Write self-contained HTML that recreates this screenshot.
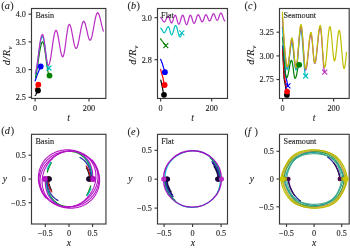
<!DOCTYPE html>
<html><head><meta charset="utf-8"><style>html,body{margin:0;padding:0;background:#fff;overflow:hidden}svg{display:block}text{stroke:#1a1a1a;stroke-width:0.1px}</style></head><body>
<svg width="350" height="248" viewBox="0 0 350 248" font-family="'Liberation Serif', 'Times New Roman', serif" fill="#1a1a1a">
<rect width="350" height="248" fill="#ffffff"/>
<rect x="31.50" y="8.50" width="74.35" height="89.95" fill="none" stroke="#3a3a3a" stroke-width="1.15"/>
<path d="M28.50 97.30H31.50" stroke="#3a3a3a" stroke-width="1.15"/>
<text x="25.90" y="100.21" font-size="8.2" text-anchor="end" >2.5</text>
<path d="M28.50 69.60H31.50" stroke="#3a3a3a" stroke-width="1.15"/>
<text x="25.90" y="72.51" font-size="8.2" text-anchor="end" >3.0</text>
<path d="M28.50 41.90H31.50" stroke="#3a3a3a" stroke-width="1.15"/>
<text x="25.90" y="44.81" font-size="8.2" text-anchor="end" >3.5</text>
<path d="M28.50 14.20H31.50" stroke="#3a3a3a" stroke-width="1.15"/>
<text x="25.90" y="17.11" font-size="8.2" text-anchor="end" >4.0</text>
<path d="M35.10 98.45V101.45" stroke="#3a3a3a" stroke-width="1.15"/>
<text x="35.10" y="110.65" font-size="8.2" text-anchor="middle" >0</text>
<path d="M89.00 98.45V101.45" stroke="#3a3a3a" stroke-width="1.15"/>
<text x="89.00" y="110.65" font-size="8.2" text-anchor="middle" >200</text>
<clipPath id="ca"><rect x="31.50" y="8.50" width="74.35" height="89.95"/></clipPath>
<g clip-path="url(#ca)">
<path d="M35.10 95.50L35.34 95.42L35.58 95.17L35.83 94.78L36.07 94.28L36.31 93.68L36.55 93.05L36.79 92.42L37.03 91.83L37.27 91.32L37.52 90.93L37.76 90.68L38.00 90.60" fill="none" stroke="#000000" stroke-width="1.2" stroke-linejoin="round" stroke-linecap="round" />
<path d="M35.10 89.00L35.38 88.93L35.65 88.71L35.92 88.36L36.20 87.90L36.48 87.37L36.75 86.80L37.02 86.23L37.30 85.70L37.58 85.24L37.85 84.89L38.12 84.67L38.40 84.60" fill="none" stroke="#ff0000" stroke-width="1.2" stroke-linejoin="round" stroke-linecap="round" />
<path d="M35.10 81.00L37.50 74.00L40.70 66.50" fill="none" stroke="#0000ff" stroke-width="1.2" stroke-linejoin="round" stroke-linecap="round" />
<path d="M35.43 77.44L36.15 74.41L36.87 70.45L37.58 65.84L38.30 60.90L39.02 55.96L39.73 51.35L40.45 47.39L41.17 44.36L41.88 42.45L42.60 41.80L43.18 42.38L43.75 44.06L44.33 46.75L44.90 50.25L45.48 54.33L46.05 58.70L46.62 63.07L47.20 67.15L47.77 70.65L48.35 73.34L48.92 75.02L49.50 75.60" fill="none" stroke="#008000" stroke-width="1.2" stroke-linejoin="round" stroke-linecap="round" />
<path d="M35.57 74.29L36.25 71.07L36.93 66.88L37.62 61.99L38.30 56.75L38.98 51.51L39.67 46.62L40.35 42.43L41.03 39.21L41.72 37.19L42.40 36.50L42.97 37.07L43.53 38.74L44.10 41.41L44.67 44.88L45.23 48.91L45.80 53.25L46.37 57.59L46.93 61.62L47.50 65.09L48.07 67.76L48.63 69.43L48.90 69.70" fill="none" stroke="#00bfbf" stroke-width="1.2" stroke-linejoin="round" stroke-linecap="round" />
<path d="M35.25 73.33L35.90 71.35L36.55 68.20L37.20 64.10L37.85 59.32L38.50 54.20L39.15 49.08L39.80 44.30L40.45 40.20L41.10 37.05L41.75 35.07L42.40 34.40L42.89 34.93L43.38 36.48L43.88 38.95L44.37 42.17L44.86 45.93L45.35 49.95L45.84 53.97L46.33 57.72L46.82 60.95L47.32 63.42L47.81 64.97L48.30 65.50L48.94 64.90L49.58 63.14L50.22 60.35L50.87 56.70L51.51 52.46L52.15 47.90L52.79 43.34L53.43 39.10L54.08 35.45L54.72 32.66L55.36 30.90L56.00 30.30L56.56 30.75L57.12 32.08L57.67 34.18L58.23 36.92L58.79 40.12L59.35 43.55L59.91 46.98L60.47 50.17L61.03 52.92L61.58 55.02L62.14 56.35L62.70 56.80L63.25 56.25L63.80 54.62L64.35 52.04L64.90 48.67L65.45 44.76L66.00 40.55L66.55 36.34L67.10 32.42L67.65 29.06L68.20 26.48L68.75 24.85L69.30 24.30L69.87 24.71L70.43 25.92L71.00 27.84L71.57 30.35L72.13 33.27L72.70 36.40L73.27 39.53L73.83 42.45L74.40 44.96L74.97 46.88L75.53 48.09L76.10 48.50L76.73 48.04L77.37 46.68L78.00 44.52L78.63 41.70L79.27 38.42L79.90 34.90L80.53 31.38L81.17 28.10L81.80 25.28L82.43 23.12L83.07 21.76L83.70 21.30L84.23 21.62L84.77 22.57L85.30 24.07L85.83 26.02L86.37 28.30L86.90 30.75L87.43 33.20L87.97 35.48L88.50 37.43L89.03 38.93L89.57 39.88L90.10 40.20L90.72 39.73L91.35 38.36L91.97 36.19L92.60 33.35L93.22 30.05L93.85 26.50L94.47 22.95L95.10 19.65L95.72 16.81L96.35 14.64L96.97 13.27L97.60 12.80L98.20 13.14L98.80 14.15L99.40 15.76L100.00 17.85L100.60 20.29L101.20 22.90L101.80 25.51L102.40 27.95L103.00 30.04L103.40 31.11" fill="none" stroke="#b82cc2" stroke-width="1.2" stroke-linejoin="round" stroke-linecap="round" />
<circle cx="38.00" cy="90.50" r="2.9" fill="#000000"/>
<circle cx="38.30" cy="84.70" r="2.9" fill="#ff0000"/>
<circle cx="40.70" cy="66.50" r="2.9" fill="#0000ff"/>
<circle cx="49.50" cy="75.60" r="2.9" fill="#008000"/>
<path d="M46.40 65.50L51.40 70.50M46.40 70.50L51.40 65.50" stroke="#00bfbf" stroke-width="1.1" fill="none"/>
</g>
<text x="35.40" y="17.60" font-size="8.2" text-anchor="start" >Basin</text>
<rect x="157.50" y="8.50" width="70.00" height="89.95" fill="none" stroke="#3a3a3a" stroke-width="1.15"/>
<path d="M154.50 59.70H157.50" stroke="#3a3a3a" stroke-width="1.15"/>
<text x="151.90" y="62.61" font-size="8.2" text-anchor="end" >2.8</text>
<path d="M154.50 17.70H157.50" stroke="#3a3a3a" stroke-width="1.15"/>
<text x="151.90" y="20.61" font-size="8.2" text-anchor="end" >3.0</text>
<path d="M160.60 98.45V101.45" stroke="#3a3a3a" stroke-width="1.15"/>
<text x="160.60" y="110.65" font-size="8.2" text-anchor="middle" >0</text>
<path d="M211.70 98.45V101.45" stroke="#3a3a3a" stroke-width="1.15"/>
<text x="211.70" y="110.65" font-size="8.2" text-anchor="middle" >200</text>
<clipPath id="cb"><rect x="157.50" y="8.50" width="70.00" height="89.95"/></clipPath>
<g clip-path="url(#cb)">
<path d="M160.60 17.70L160.90 17.77L161.20 17.98L161.50 18.32L161.80 18.75L162.10 19.26L162.40 19.80L162.70 20.34L163.00 20.85L163.30 21.28L163.60 21.62L163.90 21.83L164.20 21.90L164.54 21.80L164.88 21.52L165.22 21.07L165.57 20.47L165.91 19.79L166.25 19.05L166.59 18.31L166.93 17.62L167.28 17.03L167.62 16.58L167.96 16.30L168.30 16.20L168.57 16.32L168.83 16.66L169.10 17.20L169.37 17.90L169.63 18.72L169.90 19.60L170.17 20.48L170.43 21.30L170.70 22.00L170.97 22.54L171.23 22.88L171.50 23.00L171.81 22.87L172.12 22.48L172.43 21.86L172.73 21.05L173.04 20.11L173.35 19.10L173.66 18.09L173.97 17.15L174.27 16.34L174.58 15.72L174.89 15.33L175.20 15.20L175.50 15.35L175.80 15.80L176.10 16.52L176.40 17.45L176.70 18.54L177.00 19.70L177.30 20.86L177.60 21.95L177.90 22.88L178.20 23.60L178.50 24.05L178.80 24.20L179.12 24.05L179.45 23.60L179.78 22.88L180.10 21.95L180.43 20.86L180.75 19.70L181.07 18.54L181.40 17.45L181.72 16.52L182.05 15.80L182.38 15.35L182.70 15.20L183.02 15.36L183.35 15.83L183.67 16.58L184.00 17.55L184.32 18.68L184.65 19.90L184.97 21.12L185.30 22.25L185.62 23.22L185.95 23.97L186.28 24.44L186.60 24.60L186.92 24.44L187.23 23.97L187.55 23.22L187.87 22.25L188.18 21.12L188.50 19.90L188.82 18.68L189.13 17.55L189.45 16.58L189.77 15.83L190.08 15.36L190.40 15.20L190.71 15.34L191.02 15.75L191.32 16.40L191.63 17.25L191.94 18.24L192.25 19.30L192.56 20.36L192.87 21.35L193.18 22.20L193.48 22.85L193.79 23.26L194.10 23.40L194.44 23.25L194.78 22.82L195.12 22.13L195.47 21.22L195.81 20.18L196.15 19.05L196.49 17.92L196.83 16.88L197.17 15.97L197.52 15.28L197.86 14.85L198.20 14.70L198.53 14.82L198.87 15.18L199.20 15.75L199.53 16.50L199.87 17.37L200.20 18.30L200.53 19.23L200.87 20.10L201.20 20.85L201.53 21.42L201.87 21.78L202.20 21.90L202.51 21.78L202.82 21.42L203.12 20.85L203.43 20.10L203.74 19.23L204.05 18.30L204.36 17.37L204.67 16.50L204.97 15.75L205.28 15.18L205.59 14.82L205.90 14.70L206.21 14.81L206.52 15.12L206.82 15.61L207.13 16.25L207.44 17.00L207.75 17.80L208.06 18.60L208.37 19.35L208.68 19.99L208.98 20.48L209.29 20.79L209.60 20.90L209.92 20.78L210.25 20.42L210.57 19.85L210.90 19.10L211.22 18.23L211.55 17.30L211.88 16.37L212.20 15.50L212.53 14.75L212.85 14.18L213.18 13.82L213.50 13.70L213.81 13.81L214.12 14.14L214.43 14.67L214.73 15.35L215.04 16.15L215.35 17.00L215.66 17.85L215.97 18.65L216.27 19.33L216.58 19.86L216.89 20.19L217.20 20.30L217.51 20.18L217.82 19.82L218.12 19.25L218.43 18.50L218.74 17.63L219.05 16.70L219.36 15.77L219.67 14.90L219.97 14.15L220.28 13.58L220.59 13.22L220.90 13.10L221.24 13.23L221.58 13.63L221.93 14.26L222.27 15.07L222.61 16.03L222.95 17.05L223.29 18.07L223.63 19.02L223.97 19.84L224.32 20.47L224.66 20.87L224.80 20.92" fill="none" stroke="#b82cc2" stroke-width="1.2" stroke-linejoin="round" stroke-linecap="round" />
<path d="M160.60 28.20L160.90 28.28L161.20 28.51L161.50 28.87L161.80 29.35L162.10 29.90L162.40 30.50L162.70 31.10L163.00 31.65L163.30 32.13L163.60 32.49L163.90 32.72L164.20 32.80L164.54 32.69L164.88 32.38L165.22 31.89L165.57 31.25L165.91 30.50L166.25 29.70L166.59 28.90L166.93 28.15L167.28 27.51L167.62 27.02L167.96 26.71L168.30 26.60L168.58 26.74L168.85 27.16L169.12 27.82L169.40 28.68L169.68 29.68L169.95 30.75L170.22 31.82L170.50 32.82L170.78 33.68L171.05 34.34L171.32 34.76L171.60 34.90L171.93 34.74L172.27 34.28L172.60 33.54L172.93 32.58L173.27 31.45L173.60 30.25L173.93 29.05L174.27 27.93L174.60 26.96L174.93 26.22L175.27 25.76L175.60 25.60L175.97 25.79L176.33 26.36L176.70 27.27L177.07 28.45L177.43 29.82L177.80 31.30L178.17 32.78L178.53 34.15L178.90 35.33L179.27 36.24L179.63 36.81L180.00 37.00L180.29 36.88L180.58 36.53L180.88 35.97L181.17 35.25L181.46 34.41L181.75 33.50L181.80 33.34" fill="none" stroke="#00bfbf" stroke-width="1.2" stroke-linejoin="round" stroke-linecap="round" />
<path d="M160.60 38.80L162.50 41.50L165.80 45.70" fill="none" stroke="#008000" stroke-width="1.2" stroke-linejoin="round" stroke-linecap="round" />
<path d="M160.60 59.30L162.30 63.50L164.90 72.10" fill="none" stroke="#0000ff" stroke-width="1.2" stroke-linejoin="round" stroke-linecap="round" />
<path d="M160.60 69.30L162.50 76.00L164.50 84.80" fill="none" stroke="#ff0000" stroke-width="1.2" stroke-linejoin="round" stroke-linecap="round" />
<path d="M160.80 80.20L162.30 87.00L163.70 94.40" fill="none" stroke="#000000" stroke-width="1.2" stroke-linejoin="round" stroke-linecap="round" />
<circle cx="164.00" cy="94.80" r="2.9" fill="#000000"/>
<circle cx="164.60" cy="85.00" r="2.9" fill="#ff0000"/>
<circle cx="164.90" cy="72.20" r="2.9" fill="#0000ff"/>
<path d="M179.30 30.40L184.30 35.40M179.30 35.40L184.30 30.40" stroke="#00bfbf" stroke-width="1.1" fill="none"/>
<path d="M163.30 43.20L168.30 48.20M163.30 48.20L168.30 43.20" stroke="#008000" stroke-width="1.1" fill="none"/>
</g>
<text x="161.10" y="17.80" font-size="8.2" text-anchor="start" >Flat</text>
<rect x="279.50" y="8.50" width="69.70" height="89.95" fill="none" stroke="#3a3a3a" stroke-width="1.15"/>
<path d="M276.50 79.50H279.50" stroke="#3a3a3a" stroke-width="1.15"/>
<text x="273.90" y="82.41" font-size="8.2" text-anchor="end" >2.75</text>
<path d="M276.50 55.90H279.50" stroke="#3a3a3a" stroke-width="1.15"/>
<text x="273.90" y="58.81" font-size="8.2" text-anchor="end" >3.00</text>
<path d="M276.50 32.20H279.50" stroke="#3a3a3a" stroke-width="1.15"/>
<text x="273.90" y="35.11" font-size="8.2" text-anchor="end" >3.25</text>
<path d="M282.60 98.45V101.45" stroke="#3a3a3a" stroke-width="1.15"/>
<text x="282.60" y="110.65" font-size="8.2" text-anchor="middle" >0</text>
<path d="M333.60 98.45V101.45" stroke="#3a3a3a" stroke-width="1.15"/>
<text x="333.60" y="110.65" font-size="8.2" text-anchor="middle" >200</text>
<clipPath id="cc"><rect x="279.50" y="8.50" width="69.70" height="89.95"/></clipPath>
<g clip-path="url(#cc)">
<path d="M282.70 50.00L284.00 78.00L286.90 94.70" fill="none" stroke="#000000" stroke-width="1.2" stroke-linejoin="round" stroke-linecap="round" />
<path d="M282.70 48.00L284.20 75.00L287.10 91.60" fill="none" stroke="#ff0000" stroke-width="1.2" stroke-linejoin="round" stroke-linecap="round" />
<path d="M282.60 46.00L283.60 52.00L285.30 74.00L287.90 85.90" fill="none" stroke="#0000ff" stroke-width="1.2" stroke-linejoin="round" stroke-linecap="round" />
<path d="M282.60 37.00L282.94 42.33L283.28 47.56L283.62 52.61L283.97 57.40L284.31 61.84L284.65 65.85L284.99 69.37L285.33 72.33L285.68 74.69L286.02 76.41L286.36 77.45L286.70 77.80L287.10 77.50L287.50 76.63L287.90 75.24L288.30 73.42L288.70 71.31L289.10 69.05L289.50 66.79L289.90 64.67L290.30 62.86L290.70 61.47L291.10 60.60L291.50 60.30L291.80 60.61L292.10 61.51L292.40 62.95L292.70 64.83L293.00 67.01L293.30 69.35L293.60 71.69L293.90 73.88L294.20 75.75L294.50 77.19L294.80 78.09L295.10 78.40L295.49 78.12L295.88 77.30L296.28 76.00L296.67 74.30L297.06 72.32L297.45 70.20L297.84 68.08L298.23 66.10L298.62 64.40L299.02 63.10L299.20 62.72" fill="none" stroke="#008000" stroke-width="1.2" stroke-linejoin="round" stroke-linecap="round" />
<path d="M282.40 27.00L282.81 32.55L283.22 38.00L283.62 43.26L284.03 48.25L284.44 52.87L284.85 57.05L285.26 60.72L285.67 63.81L286.07 66.26L286.48 68.05L286.89 69.14L287.30 69.50L287.68 69.05L288.05 67.72L288.43 65.62L288.80 62.88L289.18 59.68L289.55 56.25L289.93 52.82L290.30 49.62L290.68 46.88L291.05 44.78L291.43 43.45L291.80 43.00L292.15 43.46L292.50 44.81L292.85 46.95L293.20 49.75L293.55 53.01L293.90 56.50L294.25 59.99L294.60 63.25L294.95 66.05L295.30 68.19L295.65 69.54L296.00 70.00L296.40 69.32L296.80 67.32L297.20 64.14L297.60 60.00L298.00 55.18L298.40 50.00L298.80 44.82L299.20 40.00L299.60 35.86L300.00 32.68L300.40 30.68L300.80 30.00L301.21 30.78L301.62 33.08L302.02 36.74L302.43 41.50L302.84 47.05L303.25 53.00L303.66 58.95L304.07 64.50L304.48 69.26L304.88 72.92L305.29 75.22L305.70 76.00" fill="none" stroke="#00bfbf" stroke-width="1.2" stroke-linejoin="round" stroke-linecap="round" />
<path d="M282.40 17.00L282.82 23.53L283.25 29.94L283.67 36.13L284.10 42.00L284.52 47.44L284.95 52.36L285.38 56.67L285.80 60.30L286.23 63.19L286.65 65.30L287.07 66.57L287.50 67.00L287.87 66.54L288.23 65.19L288.60 63.05L288.97 60.25L289.33 56.99L289.70 53.50L290.07 50.01L290.43 46.75L290.80 43.95L291.17 41.81L291.53 40.46L291.90 40.00L292.24 40.48L292.58 41.88L292.92 44.10L293.27 47.00L293.61 50.38L293.95 54.00L294.29 57.62L294.63 61.00L294.98 63.90L295.32 66.12L295.66 67.52L296.00 68.00L296.42 67.29L296.83 65.22L297.25 61.92L297.67 57.62L298.08 52.62L298.50 47.25L298.92 41.88L299.33 36.88L299.75 32.58L300.17 29.28L300.58 27.21L301.00 26.50L301.39 27.24L301.78 29.41L302.18 32.87L302.57 37.38L302.96 42.62L303.35 48.25L303.74 53.88L304.13 59.12L304.52 63.63L304.92 67.09L305.31 69.26L305.70 70.00L306.14 69.40L306.58 67.62L307.02 64.80L307.47 61.12L307.91 56.84L308.35 52.25L308.79 47.66L309.23 43.38L309.68 39.70L310.12 36.88L310.56 35.10L311.00 34.50L311.32 34.99L311.63 36.44L311.95 38.75L312.27 41.75L312.58 45.25L312.90 49.00L313.22 52.75L313.53 56.25L313.85 59.25L314.17 61.56L314.48 63.01L314.80 63.50L315.25 62.89L315.70 61.09L316.15 58.23L316.60 54.50L317.05 50.16L317.50 45.50L317.95 40.84L318.40 36.50L318.85 32.77L319.30 29.91L319.75 28.11L320.20 27.50L320.57 28.26L320.95 30.49L321.32 34.05L321.70 38.67L322.07 44.07L322.45 49.85L322.82 55.63L323.20 61.02L323.57 65.65L323.95 69.21L324.32 71.44L324.70 72.20" fill="none" stroke="#b82cc2" stroke-width="1.2" stroke-linejoin="round" stroke-linecap="round" />
<path d="M282.40 12.20L282.82 19.29L283.25 26.25L283.67 32.98L284.10 39.35L284.52 45.26L284.95 50.60L285.38 55.28L285.80 59.23L286.23 62.37L286.65 64.65L287.07 66.04L287.50 66.50L287.87 66.01L288.23 64.58L288.60 62.30L288.97 59.33L289.33 55.86L289.70 52.15L290.07 48.44L290.43 44.98L290.80 42.00L291.17 39.72L291.53 38.29L291.90 37.80L292.24 38.31L292.58 39.79L292.92 42.15L293.27 45.22L293.61 48.81L293.95 52.65L294.29 56.49L294.63 60.07L294.98 63.15L295.32 65.51L295.66 66.99L296.00 67.50L296.42 66.77L296.83 64.62L297.25 61.20L297.67 56.75L298.08 51.56L298.50 46.00L298.92 40.44L299.33 35.25L299.75 30.80L300.17 27.38L300.58 25.23L301.00 24.50L301.38 25.25L301.77 27.47L302.15 30.99L302.53 35.57L302.92 40.92L303.30 46.65L303.68 52.38L304.07 57.72L304.45 62.31L304.83 65.83L305.22 68.05L305.60 68.80L306.05 68.18L306.50 66.35L306.95 63.45L307.40 59.67L307.85 55.27L308.30 50.55L308.75 45.83L309.20 41.42L309.65 37.65L310.10 34.75L310.55 32.92L311.00 32.30L311.31 32.82L311.62 34.35L311.93 36.78L312.23 39.95L312.54 43.64L312.85 47.60L313.16 51.56L313.47 55.25L313.77 58.42L314.08 60.85L314.39 62.38L314.70 62.90L315.16 62.26L315.62 60.39L316.07 57.42L316.53 53.55L316.99 49.04L317.45 44.20L317.91 39.36L318.37 34.85L318.82 30.98L319.28 28.01L319.74 26.14L320.20 25.50L320.57 26.22L320.93 28.31L321.30 31.65L321.67 36.00L322.03 41.06L322.40 46.50L322.77 51.94L323.13 57.00L323.50 61.35L323.87 64.69L324.23 66.78L324.60 67.50L325.04 66.80L325.48 64.76L325.93 61.51L326.37 57.28L326.81 52.34L327.25 47.05L327.69 41.76L328.13 36.83L328.57 32.59L329.02 29.34L329.46 27.30L329.90 26.60L330.28 27.18L330.67 28.90L331.05 31.62L331.43 35.17L331.82 39.31L332.20 43.75L332.58 48.19L332.97 52.32L333.35 55.88L333.73 58.60L334.12 60.32L334.50 60.90L334.89 60.38L335.28 58.86L335.68 56.43L336.07 53.27L336.46 49.60L336.85 45.65L337.24 41.70L337.63 38.03L338.02 34.87L338.42 32.44L338.81 30.92L339.20 30.40L339.61 31.05L340.02 32.95L340.43 35.98L340.83 39.92L341.24 44.52L341.65 49.45L342.06 54.38L342.47 58.97L342.88 62.92L343.28 65.95L343.69 67.85L344.10 68.50L344.47 68.01L344.83 66.59L345.20 64.33L345.57 61.38L345.93 57.94L346.30 54.25L346.50 52.24" fill="none" stroke="#bfbf00" stroke-width="1.2" stroke-linejoin="round" stroke-linecap="round" />
<circle cx="286.90" cy="94.90" r="2.9" fill="#000000"/>
<circle cx="287.10" cy="91.60" r="2.9" fill="#ff0000"/>
<circle cx="299.20" cy="64.80" r="2.9" fill="#008000"/>
<path d="M303.20 73.50L308.20 78.50M303.20 78.50L308.20 73.50" stroke="#00bfbf" stroke-width="1.1" fill="none"/>
<path d="M322.20 69.70L327.20 74.70M322.20 74.70L327.20 69.70" stroke="#b82cc2" stroke-width="1.1" fill="none"/>
<path d="M285.40 83.40L290.40 88.40M285.40 88.40L290.40 83.40" stroke="#0000ff" stroke-width="1.1" fill="none"/>
</g>
<text x="283.40" y="17.80" font-size="8.2" text-anchor="start" >Seamount</text>
<rect x="31.50" y="134.30" width="74.45" height="89.70" fill="none" stroke="#3a3a3a" stroke-width="1.15"/>
<path d="M28.50 155.20H31.50" stroke="#3a3a3a" stroke-width="1.15"/>
<text x="25.90" y="158.11" font-size="8.2" text-anchor="end" >0.5</text>
<path d="M28.50 179.00H31.50" stroke="#3a3a3a" stroke-width="1.15"/>
<text x="25.90" y="181.91" font-size="8.2" text-anchor="end" >0</text>
<path d="M28.50 202.70H31.50" stroke="#3a3a3a" stroke-width="1.15"/>
<text x="25.90" y="205.61" font-size="8.2" text-anchor="end" >−0.5</text>
<path d="M45.30 224.00V227.00" stroke="#3a3a3a" stroke-width="1.15"/>
<text x="45.30" y="236.20" font-size="8.2" text-anchor="middle" >−0.5</text>
<path d="M69.00 224.00V227.00" stroke="#3a3a3a" stroke-width="1.15"/>
<text x="69.00" y="236.20" font-size="8.2" text-anchor="middle" >0</text>
<path d="M92.60 224.00V227.00" stroke="#3a3a3a" stroke-width="1.15"/>
<text x="92.60" y="236.20" font-size="8.2" text-anchor="middle" >0.5</text>
<clipPath id="cd"><rect x="31.50" y="134.30" width="74.45" height="89.70"/></clipPath>
<g clip-path="url(#cd)">
<path d="M46.10 179.00L46.10 179.60L46.20 180.20L46.20 180.80L46.20 181.50L46.20 182.10L46.30 182.70L46.40 183.30L46.40 183.90L46.50 184.50L46.60 185.20L46.70 185.80L46.80 186.40L46.90 187.00L47.10 187.60L47.20 188.30L47.40 188.90L47.50 189.50L47.70 190.10L47.90 190.80L48.10 191.40L48.40 192.00L48.60 192.60L48.90 193.20L49.20 193.80L49.50 194.50L49.80 195.10L50.10 195.70L50.50 196.20L50.80 196.80L51.20 197.40L51.60 198.00L52.10 198.50L52.50 199.10L53.00 199.60L53.50 200.10L54.00 200.60L54.50 201.10L55.00 201.60L55.60 202.10L56.10 202.50L56.70 203.00L57.30 203.40L57.90 203.80L58.50 204.10L59.20 204.50L59.80 204.80L60.50 205.10L61.20 205.40L61.90 205.60L62.60 205.80L63.30 206.00L64.00 206.20L64.70 206.40L65.50 206.50L66.20 206.60L66.90 206.60L67.70 206.70L68.40 206.70L69.10 206.70" fill="none" stroke="#008000" stroke-width="1.3" stroke-linejoin="round" stroke-linecap="round" />
<path d="M86.70 195.20L87.10 194.60L87.40 194.10L87.70 193.50L88.00 192.90L88.30 192.40L88.50 191.80L88.80 191.20L89.00 190.60L89.30 190.10L89.50 189.50L89.70 188.90L89.90 188.30L90.10 187.80L90.30 187.20L90.50 186.60L90.70 186.00" fill="none" stroke="#008000" stroke-width="1.3" stroke-linejoin="round" stroke-linecap="round" />
<path d="M91.90 179.00L91.90 178.40L91.80 177.80L91.80 177.20L91.80 176.50L91.80 175.90L91.70 175.30L91.60 174.70L91.60 174.10L91.50 173.50L91.40 172.80L91.30 172.20L91.20 171.60L91.10 171.00L90.90 170.40L90.80 169.70L90.60 169.10L90.50 168.50L90.30 167.90L90.10 167.20L89.90 166.60L89.60 166.00L89.40 165.40L89.10 164.80L88.80 164.20L88.50 163.50L88.20 162.90L87.90 162.30L87.50 161.80L87.20 161.20L86.80 160.60L86.40 160.00L85.90 159.50L85.50 158.90L85.00 158.40L84.50 157.90L84.00 157.40L83.50 156.90L83.00 156.40L82.40 155.90L81.90 155.50L81.30 155.00L80.70 154.60L80.10 154.20L79.50 153.90L78.80 153.50L78.20 153.20L77.50 152.90L76.80 152.60L76.10 152.40L75.40 152.20L74.70 152.00L74.00 151.80L73.30 151.60L72.50 151.50L71.80 151.40L71.10 151.40L70.30 151.30L69.60 151.30L68.90 151.30" fill="none" stroke="#008000" stroke-width="1.3" stroke-linejoin="round" stroke-linecap="round" />
<path d="M51.30 162.80L50.90 163.40L50.60 163.90L50.30 164.50L50.00 165.10L49.70 165.60L49.50 166.20L49.20 166.80L49.00 167.40L48.70 167.90L48.50 168.50L48.30 169.10L48.10 169.70L47.90 170.20L47.70 170.80L47.50 171.40L47.30 172.00" fill="none" stroke="#008000" stroke-width="1.3" stroke-linejoin="round" stroke-linecap="round" />
<path d="M45.70 179.00L45.80 179.60L45.80 180.20L45.80 180.90L45.80 181.50L45.80 182.10L45.90 182.70L45.90 183.40L46.00 184.00L46.10 184.60L46.20 185.30L46.30 185.90L46.40 186.50L46.50 187.20L46.60 187.80L46.80 188.50L46.90 189.10L47.10 189.70L47.30 190.40L47.50 191.00L47.70 191.70L47.90 192.30L48.10 193.00L48.40 193.60L48.70 194.20L49.00 194.90L49.30 195.50L49.60 196.10L50.00 196.70L50.40 197.30L50.70 197.90L51.20 198.50L51.60 199.10L52.00 199.70L52.50 200.20L53.00 200.80L53.50 201.30L54.00 201.80L54.60 202.30L55.10 202.80L55.70 203.20L56.30 203.70L56.90 204.10L57.60 204.50L58.20 204.90L58.90 205.20L59.60 205.60L60.30 205.90L61.00 206.10L61.70 206.40L62.40 206.60L63.10 206.80L63.90 207.00L64.60 207.10L65.40 207.20L66.10 207.30L66.90 207.40L67.60 207.40L68.40 207.40L69.10 207.40" fill="none" stroke="#00bfbf" stroke-width="1.3" stroke-linejoin="round" stroke-linecap="round" />
<path d="M87.20 195.60L87.50 195.00L87.90 194.50L88.20 193.90L88.50 193.30L88.90 192.80L89.20 192.20L89.50 191.60L89.70 191.10L90.00 190.50L90.30 189.90L90.60 189.30L90.80 188.70" fill="none" stroke="#00bfbf" stroke-width="1.3" stroke-linejoin="round" stroke-linecap="round" />
<path d="M92.30 179.00L92.20 178.40L92.20 177.80L92.20 177.10L92.20 176.50L92.20 175.90L92.10 175.30L92.10 174.60L92.00 174.00L91.90 173.40L91.80 172.70L91.70 172.10L91.60 171.50L91.50 170.80L91.40 170.20L91.20 169.50L91.10 168.90L90.90 168.30L90.70 167.60L90.50 167.00L90.30 166.30L90.10 165.70L89.90 165.00L89.60 164.40L89.30 163.80L89.00 163.10L88.70 162.50L88.40 161.90L88.00 161.30L87.60 160.70L87.30 160.10L86.80 159.50L86.40 158.90L86.00 158.30L85.50 157.80L85.00 157.20L84.50 156.70L84.00 156.20L83.40 155.70L82.90 155.20L82.30 154.80L81.70 154.30L81.10 153.90L80.40 153.50L79.80 153.10L79.10 152.80L78.40 152.40L77.70 152.10L77.00 151.90L76.30 151.60L75.60 151.40L74.90 151.20L74.10 151.00L73.40 150.90L72.60 150.80L71.90 150.70L71.10 150.60L70.40 150.60L69.60 150.60L68.90 150.60" fill="none" stroke="#00bfbf" stroke-width="1.3" stroke-linejoin="round" stroke-linecap="round" />
<path d="M50.80 162.40L50.50 163.00L50.10 163.50L49.80 164.10L49.50 164.70L49.10 165.20L48.80 165.80L48.50 166.40L48.30 166.90L48.00 167.50L47.70 168.10L47.40 168.70L47.20 169.30" fill="none" stroke="#00bfbf" stroke-width="1.3" stroke-linejoin="round" stroke-linecap="round" />
<path d="M45.40 179.00L45.30 179.60L45.30 180.20L45.30 180.90L45.30 181.50L45.30 182.10L45.30 182.80L45.30 183.40L45.40 184.00L45.40 184.70L45.50 185.30L45.50 186.00L45.60 186.60L45.70 187.30L45.80 187.90L46.00 188.60L46.10 189.20L46.30 189.90L46.50 190.50L46.70 191.20L46.90 191.80L47.10 192.50L47.40 193.10L47.60 193.70L47.90 194.40L48.20 195.00L48.60 195.60L48.90 196.20L49.30 196.80L49.70 197.40L50.10 198.00L50.50 198.60L51.00 199.10L51.40 199.70L51.90 200.20L52.40 200.70L52.90 201.20L53.50 201.70L54.00 202.10L54.60 202.60L55.20 203.00L55.80 203.40L56.40 203.80L57.00 204.20L57.70 204.50L58.30 204.80L59.00 205.10L59.70 205.40L60.40 205.70L61.10 205.90L61.80 206.10L62.50 206.30L63.20 206.50L63.90 206.60L64.60 206.80L65.30 206.90L66.10 207.00L66.80 207.00L67.50 207.00L68.30 207.00L69.00 207.00L69.70 207.00L70.50 206.90L71.20 206.80L71.90 206.70L72.60 206.60L73.30 206.40L74.00 206.20L74.70 206.00L75.40 205.80L76.10 205.60L76.80 205.30L77.40 205.00L78.10 204.70L78.70 204.40L79.30 204.10L80.00 203.70L80.60 203.40L81.20 203.00L81.80 202.60L82.30 202.20L82.90 201.80L83.40 201.30L84.00 200.90L84.50 200.40L85.00 200.00L85.50 199.50L86.00 199.00L86.50 198.50L87.00 198.00L87.40 197.50L87.90 197.00L88.30 196.50L88.80 195.90L89.20 195.40L89.60 194.90L90.00 194.30L90.40 193.70L90.70 193.20L91.10 192.60L91.50 192.00L91.80 191.40L92.10 190.80L92.50 190.20L92.80 189.60L93.10 189.00L93.30 188.40L93.60 187.80L93.90 187.10L94.10 186.50L94.30 185.80L94.50 185.20L94.70 184.50L94.90 183.80L95.10 183.20L95.30 182.50L95.40 181.80L95.50 181.10L95.60 180.40L95.70 179.70L95.80 179.00L95.90 178.30L95.90 177.60L95.90 176.90L95.90 176.20L95.90 175.40L95.90 174.70L95.80 174.00L95.80 173.30L95.70 172.60L95.60 171.80L95.50 171.10L95.30 170.40L95.10 169.70L94.90 169.00L94.70 168.30L94.50 167.60L94.30 166.90L94.00 166.20L93.70 165.50L93.40 164.90L93.10 164.20L92.70 163.50L92.30 162.90L91.90 162.30L91.50 161.60L91.10 161.00L90.60 160.40L90.20 159.90L89.70 159.30L89.20 158.70L88.70 158.20L88.10 157.70L87.60 157.20L87.00 156.70L86.40 156.20L85.80 155.80L85.20 155.30L84.60 154.90L83.90 154.50L83.30 154.10L82.60 153.80L82.00 153.50L81.30 153.10L80.60 152.90L79.90 152.60L79.20 152.30L78.50 152.10L77.80 151.90L77.00 151.70L76.30 151.60L75.60 151.40L74.90 151.30L74.10 151.20L73.40 151.10L72.70 151.10L71.90 151.10L71.20 151.00L70.50 151.10L69.70 151.10L69.00 151.10L68.30 151.20L67.60 151.30L66.80 151.40L66.10 151.50L65.40 151.60L64.70 151.80L64.00 152.00L63.30 152.20L62.60 152.40L62.00 152.60L61.30 152.80L60.60 153.10L60.00 153.30L59.30 153.60L58.70 153.90L58.00 154.20L57.40 154.50L56.80 154.90L56.10 155.20L55.50 155.60L54.90 156.00L54.30 156.30L53.80 156.70L53.20 157.20L52.60 157.60L52.10 158.00L51.50 158.40L51.00 158.90L50.40 159.40L49.90 159.80L49.40 160.30L48.90 160.80L48.40 161.30L47.90 161.90L47.40 162.40L47.00 162.90L46.50 163.50L46.10 164.10L45.60 164.60L45.20 165.20L44.80 165.80L44.40 166.40L44.00 167.00L43.70 167.70L43.30 168.30L43.00 169.00L42.70 169.60L42.30 170.30L42.10 171.00L41.80 171.70L41.50 172.40L41.30 173.10L41.10 173.80L40.90 174.50L40.70 175.30L40.50 176.00L40.40 176.70L40.30 177.50L40.20 178.20L40.10 179.00L40.10 179.80L40.00 180.50L40.00 181.30L40.00 182.10L40.10 182.80L40.20 183.60L40.30 184.40L40.40 185.10L40.50 185.90L40.70 186.60L40.90 187.40L41.10 188.10L41.30 188.80L41.60 189.60L41.90 190.30L42.20 191.00L42.50 191.70L42.80 192.40L43.20 193.10L43.60 193.70L44.00 194.40L44.40 195.00L44.90 195.60L45.30 196.30L45.80 196.90L46.30 197.40L46.80 198.00L47.40 198.60L47.90 199.10L48.50 199.60L49.10 200.10L49.60 200.60L50.20 201.10L50.90 201.50L51.50 201.90L52.10 202.40L52.70 202.70L53.40 203.10L54.10 203.50L54.70 203.80L55.40 204.10L56.10 204.50L56.80 204.70L57.50 205.00L58.20 205.30L58.90 205.50L59.60 205.70L60.30 205.90L61.00 206.10L61.70 206.20L62.50 206.40L63.20 206.50L63.90 206.60L64.60 206.70L65.40 206.80L66.10 206.90L66.80 206.90L67.50 206.90L68.30 207.00L69.00 206.90L69.70 206.90L70.50 206.90L71.20 206.80L71.90 206.80L72.60 206.70L73.40 206.60L74.10 206.50L74.80 206.40L75.50 206.20L76.20 206.00L76.90 205.90L77.60 205.70L78.30 205.50L79.00 205.20L79.70 205.00L80.40 204.70L81.10 204.50L81.80 204.20L82.40 203.90L83.10 203.50L83.80 203.20L84.40 202.80L85.10 202.50L85.70 202.10L86.30 201.70L86.90 201.30L87.60 200.80L88.20 200.40L88.70 199.90L89.30 199.40L89.90 198.90L90.40 198.40L91.00 197.90L91.50 197.30L92.00 196.70L92.50 196.20L93.00 195.60L93.50 195.00L93.90 194.30L94.40 193.70L94.80 193.10L95.20 192.40L95.60 191.70L95.90 191.00L96.30 190.40L96.60 189.60L96.90 188.90L97.20 188.20L97.50 187.50L97.70 186.70L97.90 186.00L98.10 185.20L98.30 184.50L98.50 183.70L98.60 182.90L98.70 182.10L98.80 181.40L98.90 180.60L98.90 179.80L98.90 179.00L98.90 178.20L98.90 177.40L98.80 176.60L98.80 175.90L98.70 175.10L98.50 174.30L98.40 173.50L98.20 172.80L98.00 172.00L97.80 171.20L97.60 170.50L97.30 169.80L97.10 169.00L96.80 168.30L96.40 167.60L96.10 166.90L95.70 166.20L95.40 165.50L95.00 164.80L94.60 164.20L94.10 163.50L93.70 162.90L93.20 162.30L92.80 161.70L92.30 161.10L91.80 160.50L91.20 159.90L90.70 159.40L90.10 158.80L89.60 158.30L89.00 157.80L88.40 157.30L87.80 156.80L87.20 156.40L86.60 155.90L86.00 155.50L85.40 155.10L84.70 154.70L84.10 154.30L83.40 153.90L82.70 153.60L82.10 153.20L81.40 152.90L80.70 152.60L80.00 152.30L79.30 152.00L78.60 151.80L77.90 151.50L77.20 151.30L76.40 151.10L75.70 150.90L75.00 150.70L74.20 150.60L73.50 150.40L72.80 150.30L72.00 150.20L71.30 150.10L70.50 150.00L69.80 149.90L69.00 149.90L68.20 149.90L67.50 149.80L66.70 149.80L66.00 149.90L65.20 149.90L64.40 150.00L63.70 150.10L62.90 150.20L62.10 150.30L61.40 150.40L60.60 150.60L59.90 150.70L59.10 150.90L58.40 151.20L57.60 151.40L56.90 151.60L56.10 151.90L55.40 152.20L54.70 152.50L54.00 152.90L53.30 153.20L52.60 153.60L51.90 154.00L51.20 154.40L50.50 154.80L49.90 155.30L49.20 155.80L48.60 156.30L48.00 156.80L47.40 157.30L46.80 157.90L46.20 158.40L45.70 159.00L45.10 159.60L44.60 160.20L44.10 160.80L43.60 161.50L43.20 162.10L42.70 162.80L42.30 163.50L41.90 164.20L41.50 164.90L41.10 165.70L40.80 166.40L40.50 167.10L40.20 167.90L39.90 168.60L39.60 169.40L39.40 170.20L39.20 171.00L39.00 171.80L38.90 172.60L38.70 173.40L38.60 174.20L38.50 175.00L38.40 175.80L38.40 176.60L38.40 177.40L38.40 178.20L38.40 179.00L38.40 179.80L38.50 180.60L38.60 181.40L38.70 182.20L38.80 183.00L39.00 183.80L39.20 184.60L39.30 185.30L39.60 186.10L39.80 186.90L40.00 187.60L40.30 188.40L40.60 189.10L40.90 189.80L41.20 190.60L41.50 191.30L41.90 192.00L42.20 192.70L42.60 193.40L43.00 194.10L43.40 194.70L43.90 195.40L44.30 196.00L44.80 196.70L45.20 197.30L45.70 197.90" fill="none" stroke="#b414c4" stroke-width="1.1" stroke-linejoin="round" stroke-linecap="round" />
<path d="M92.70 179.00L92.70 178.40L92.70 177.80L92.70 177.10L92.70 176.50L92.70 175.90L92.70 175.20L92.70 174.60L92.60 174.00L92.60 173.30L92.50 172.70L92.50 172.00L92.40 171.40L92.30 170.70L92.20 170.10L92.00 169.40L91.90 168.80L91.70 168.10L91.50 167.50L91.30 166.80L91.10 166.20L90.90 165.50L90.60 164.90L90.40 164.30L90.10 163.60L89.80 163.00L89.40 162.40L89.10 161.80L88.70 161.20L88.30 160.60L87.90 160.00L87.50 159.40L87.00 158.90L86.60 158.30L86.10 157.80L85.60 157.30L85.10 156.80L84.50 156.30L84.00 155.90L83.40 155.40L82.80 155.00L82.20 154.60L81.60 154.20L81.00 153.80L80.30 153.50L79.70 153.20L79.00 152.90L78.30 152.60L77.60 152.30L76.90 152.10L76.20 151.90L75.50 151.70L74.80 151.50L74.10 151.40L73.40 151.20L72.70 151.10L71.90 151.00L71.20 151.00L70.50 151.00L69.70 151.00L69.00 151.00L68.30 151.00L67.50 151.10L66.80 151.20L66.10 151.30L65.40 151.40L64.70 151.60L64.00 151.80L63.30 152.00L62.60 152.20L61.90 152.40L61.20 152.70L60.60 153.00L59.90 153.30L59.30 153.60L58.70 153.90L58.00 154.30L57.40 154.60L56.80 155.00L56.20 155.40L55.70 155.80L55.10 156.20L54.60 156.70L54.00 157.10L53.50 157.60L53.00 158.00L52.50 158.50L52.00 159.00L51.50 159.50L51.00 160.00L50.60 160.50L50.10 161.00L49.70 161.50L49.20 162.10L48.80 162.60L48.40 163.10L48.00 163.70L47.60 164.30L47.30 164.80L46.90 165.40L46.50 166.00L46.20 166.60L45.90 167.20L45.50 167.80L45.20 168.40L44.90 169.00L44.70 169.60L44.40 170.20L44.10 170.90L43.90 171.50L43.70 172.20L43.50 172.80L43.30 173.50L43.10 174.20L42.90 174.80L42.70 175.50L42.60 176.20L42.50 176.90L42.40 177.60L42.30 178.30L42.20 179.00L42.10 179.70L42.10 180.40L42.10 181.10L42.10 181.80L42.10 182.60L42.10 183.30L42.20 184.00L42.20 184.70L42.30 185.40L42.40 186.20L42.50 186.90L42.70 187.60L42.90 188.30L43.10 189.00L43.30 189.70L43.50 190.40L43.70 191.10L44.00 191.80L44.30 192.50L44.60 193.10L44.90 193.80L45.30 194.50L45.70 195.10L46.10 195.70L46.50 196.40L46.90 197.00L47.40 197.60L47.80 198.10L48.30 198.70L48.80 199.30L49.30 199.80L49.90 200.30L50.40 200.80L51.00 201.30L51.60 201.80L52.20 202.20L52.80 202.70L53.40 203.10L54.10 203.50L54.70 203.90L55.40 204.20L56.00 204.50L56.70 204.90L57.40 205.10L58.10 205.40L58.80 205.70L59.50 205.90L60.20 206.10L61.00 206.30L61.70 206.40L62.40 206.60L63.10 206.70L63.90 206.80L64.60 206.90L65.30 206.90L66.10 206.90L66.80 207.00L67.50 206.90L68.30 206.90L69.00 206.90L69.70 206.80L70.40 206.70L71.20 206.60L71.90 206.50L72.60 206.40L73.30 206.20L74.00 206.00L74.70 205.80L75.40 205.60L76.00 205.40L76.70 205.20L77.40 204.90L78.00 204.70L78.70 204.40L79.30 204.10L80.00 203.80L80.60 203.50L81.20 203.10L81.90 202.80L82.50 202.40L83.10 202.00L83.70 201.70L84.20 201.30L84.80 200.80L85.40 200.40L85.90 200.00L86.50 199.60L87.00 199.10L87.60 198.60L88.10 198.20L88.60 197.70L89.10 197.20L89.60 196.70L90.10 196.10L90.60 195.60L91.00 195.10L91.50 194.50L91.90 193.90L92.40 193.40L92.80 192.80L93.20 192.20L93.60 191.60L94.00 191.00L94.30 190.30L94.70 189.70L95.00 189.00L95.30 188.40L95.70 187.70L95.90 187.00L96.20 186.30L96.50 185.60L96.70 184.90L96.90 184.20L97.10 183.50L97.30 182.70L97.50 182.00L97.60 181.30L97.70 180.50L97.80 179.80L97.90 179.00L97.90 178.20L98.00 177.50L98.00 176.70L98.00 175.90L97.90 175.20L97.80 174.40L97.70 173.60L97.60 172.90L97.50 172.10L97.30 171.40L97.10 170.60L96.90 169.90L96.70 169.20L96.40 168.40L96.10 167.70L95.80 167.00L95.50 166.30L95.20 165.60L94.80 164.90L94.40 164.30L94.00 163.60L93.60 163.00L93.10 162.40L92.70 161.70L92.20 161.10L91.70 160.60L91.20 160.00L90.60 159.40L90.10 158.90L89.50 158.40L88.90 157.90L88.40 157.40L87.80 156.90L87.10 156.50L86.50 156.10L85.90 155.60L85.30 155.30L84.60 154.90L83.90 154.50L83.30 154.20L82.60 153.90L81.90 153.50L81.20 153.30L80.50 153.00L79.80 152.70L79.10 152.50L78.40 152.30L77.70 152.10L77.00 151.90L76.30 151.80L75.50 151.60L74.80 151.50L74.10 151.40L73.40 151.30L72.60 151.20L71.90 151.10L71.20 151.10L70.50 151.10L69.70 151.00L69.00 151.10L68.30 151.10L67.50 151.10L66.80 151.20L66.10 151.20L65.40 151.30L64.60 151.40L63.90 151.50L63.20 151.60L62.50 151.80L61.80 152.00L61.10 152.10L60.40 152.30L59.70 152.50L59.00 152.80L58.30 153.00L57.60 153.30L56.90 153.50L56.20 153.80L55.60 154.10L54.90 154.50L54.20 154.80L53.60 155.20L52.90 155.50L52.30 155.90L51.70 156.30L51.10 156.70L50.40 157.20L49.80 157.60L49.30 158.10L48.70 158.60L48.10 159.10L47.60 159.60L47.00 160.10L46.50 160.70L46.00 161.30L45.50 161.80L45.00 162.40L44.50 163.00L44.10 163.70L43.60 164.30L43.20 164.90L42.80 165.60L42.40 166.30L42.10 167.00L41.70 167.60L41.40 168.40L41.10 169.10L40.80 169.80L40.50 170.50L40.30 171.30L40.10 172.00L39.90 172.80L39.70 173.50L39.50 174.30L39.40 175.10L39.30 175.90L39.20 176.60L39.10 177.40L39.10 178.20L39.10 179.00L39.10 179.80L39.10 180.60L39.20 181.40L39.20 182.10L39.30 182.90L39.50 183.70L39.60 184.50L39.80 185.20L40.00 186.00L40.20 186.80L40.40 187.50L40.70 188.20L40.90 189.00L41.20 189.70L41.60 190.40L41.90 191.10L42.30 191.80L42.60 192.50L43.00 193.20L43.40 193.80L43.90 194.50L44.30 195.10L44.80 195.70L45.20 196.30L45.70 196.90L46.20 197.50L46.80 198.10L47.30 198.60L47.90 199.20L48.40 199.70L49.00 200.20L49.60 200.70L50.20 201.20L50.80 201.60L51.40 202.10L52.00 202.50L52.60 202.90L53.30 203.30L53.90 203.70L54.60 204.10L55.30 204.40L55.90 204.80L56.60 205.10L57.30 205.40L58.00 205.70L58.70 206.00L59.40 206.20L60.10 206.50L60.80 206.70L61.60 206.90L62.30 207.10L63.00 207.30L63.80 207.40L64.50 207.60L65.20 207.70L66.00 207.80L66.70 207.90L67.50 208.00L68.20 208.10L69.00 208.10L69.80 208.10L70.50 208.20L71.30 208.20L72.00 208.10L72.80 208.10L73.60 208.00L74.30 207.90L75.10 207.80L75.90 207.70L76.60 207.60L77.40 207.40L78.10 207.30L78.90 207.10L79.60 206.80L80.40 206.60L81.10 206.40L81.90 206.10L82.60 205.80L83.30 205.50L84.00 205.10L84.70 204.80L85.40 204.40L86.10 204.00L86.80 203.60L87.50 203.20L88.10 202.70L88.80 202.20L89.40 201.70L90.00 201.20L90.60 200.70L91.20 200.10L91.80 199.60L92.30 199.00L92.90 198.40L93.40 197.80L93.90 197.20L94.40 196.50L94.80 195.90L95.30 195.20L95.70 194.50L96.10 193.80L96.50 193.10L96.90 192.30L97.20 191.60L97.50 190.90L97.80 190.10L98.10 189.40L98.40 188.60L98.60 187.80L98.80 187.00L99.00 186.20L99.10 185.40L99.30 184.60L99.40 183.80L99.50 183.00L99.60 182.20L99.60 181.40L99.60 180.60L99.60 179.80L99.60 179.00L99.60 178.20L99.50 177.40L99.40 176.60L99.30 175.80L99.20 175.00L99.00 174.20L98.80 173.40L98.70 172.70L98.40 171.90L98.20 171.10L98.00 170.40L97.70 169.60L97.40 168.90L97.10 168.20L96.80 167.40L96.50 166.70L96.10 166.00L95.80 165.30L95.40 164.60L95.00 163.90L94.60 163.30L94.10 162.60L93.70 162.00L93.20 161.30L92.80 160.70L92.30 160.10" fill="none" stroke="#b414c4" stroke-width="1.1" stroke-linejoin="round" stroke-linecap="round" />
<path d="M48.50 179.00L48.50 179.50L48.50 180.10L48.60 180.60L48.60 181.20L48.70 181.70L48.70 182.30L48.80 182.80L48.90 183.40L49.00 183.90L49.20 184.40L49.30 185.00L49.50 185.50L49.60 186.00L49.80 186.60L50.00 187.10L50.20 187.60L50.40 188.10L50.70 188.60L50.90 189.10L51.20 189.60L51.50 190.00" fill="none" stroke="#101018" stroke-width="1.3" stroke-linejoin="round" stroke-linecap="round" />
<path d="M89.50 179.00L89.50 178.50L89.50 177.90L89.40 177.40L89.40 176.80L89.30 176.30L89.30 175.70L89.20 175.20L89.10 174.60L89.00 174.10L88.80 173.60L88.70 173.00L88.50 172.50L88.40 172.00L88.20 171.40L88.00 170.90L87.80 170.40L87.60 169.90L87.30 169.40L87.10 168.90L86.80 168.40L86.50 168.00" fill="none" stroke="#101018" stroke-width="1.3" stroke-linejoin="round" stroke-linecap="round" />
<path d="M47.70 179.00L47.70 179.60L47.70 180.10L47.70 180.70L47.80 181.30L47.90 181.90L47.90 182.40L48.00 183.00L48.10 183.50L48.20 184.10L48.40 184.70L48.50 185.20L48.70 185.80L48.90 186.30L49.10 186.90L49.30 187.40L49.50 187.90L49.70 188.50L50.00 189.00L50.20 189.50L50.50 190.00L50.80 190.50L51.10 191.00L51.40 191.40L51.80 191.90" fill="none" stroke="#d01010" stroke-width="1.3" stroke-linejoin="round" stroke-linecap="round" />
<path d="M90.30 179.00L90.30 178.40L90.30 177.90L90.30 177.30L90.20 176.70L90.10 176.10L90.10 175.60L90.00 175.00L89.90 174.50L89.80 173.90L89.60 173.30L89.50 172.80L89.30 172.20L89.10 171.70L88.90 171.10L88.70 170.60L88.50 170.10L88.30 169.50L88.00 169.00L87.80 168.50L87.50 168.00L87.20 167.50L86.90 167.00L86.60 166.60L86.20 166.10" fill="none" stroke="#d01010" stroke-width="1.3" stroke-linejoin="round" stroke-linecap="round" />
<path d="M46.90 179.00L46.90 179.60L46.90 180.20L47.00 180.80L47.00 181.40L47.10 182.00L47.10 182.60L47.20 183.10L47.30 183.70L47.30 184.30L47.40 184.90L47.60 185.50L47.70 186.10L47.80 186.70L48.00 187.30L48.10 187.90L48.30 188.50L48.50 189.00L48.70 189.60L48.90 190.20L49.20 190.80L49.40 191.30L49.70 191.90L50.00 192.50L50.30 193.00L50.60 193.50L51.00 194.10L51.30 194.60L51.70 195.10L52.10 195.60L52.50 196.10L52.90 196.60L53.30 197.10L53.80 197.50L54.30 197.90L54.80 198.40L55.30 198.80L55.80 199.10L56.30 199.50L56.80 199.90L57.40 200.20L58.00 200.50" fill="none" stroke="#2830a8" stroke-width="1.3" stroke-linejoin="round" stroke-linecap="round" />
<path d="M91.10 179.00L91.10 178.40L91.10 177.80L91.00 177.20L91.00 176.60L90.90 176.00L90.90 175.40L90.80 174.90L90.70 174.30L90.70 173.70L90.60 173.10L90.40 172.50L90.30 171.90L90.20 171.30L90.00 170.70L89.90 170.10L89.70 169.50L89.50 169.00L89.30 168.40L89.10 167.80L88.80 167.20L88.60 166.70L88.30 166.10L88.00 165.50L87.70 165.00L87.40 164.50L87.00 163.90L86.70 163.40L86.30 162.90L85.90 162.40L85.50 161.90L85.10 161.40L84.70 160.90L84.20 160.50L83.70 160.10L83.20 159.60L82.70 159.20L82.20 158.90L81.70 158.50L81.20 158.10L80.60 157.80L80.00 157.50" fill="none" stroke="#2830a8" stroke-width="1.3" stroke-linejoin="round" stroke-linecap="round" />
<circle cx="47.48" cy="179.00" r="2.7" fill="#2830a8"/>
<circle cx="48.42" cy="179.00" r="2.7" fill="#b01010"/>
<circle cx="49.23" cy="179.00" r="2.7" fill="#1a0a2a"/>
<circle cx="44.88" cy="179.00" r="2.9" fill="#b414c4"/>
<circle cx="90.52" cy="179.00" r="2.7" fill="#2830a8"/>
<circle cx="89.58" cy="179.00" r="2.7" fill="#b01010"/>
<circle cx="88.77" cy="179.00" r="2.7" fill="#1a0a2a"/>
<circle cx="93.12" cy="179.00" r="2.9" fill="#b414c4"/>
</g>
<text x="35.40" y="143.80" font-size="8.2" text-anchor="start" >Basin</text>
<rect x="157.50" y="134.30" width="70.00" height="89.70" fill="none" stroke="#3a3a3a" stroke-width="1.15"/>
<path d="M154.50 150.30H157.50" stroke="#3a3a3a" stroke-width="1.15"/>
<text x="151.90" y="153.21" font-size="8.2" text-anchor="end" >0.5</text>
<path d="M154.50 179.20H157.50" stroke="#3a3a3a" stroke-width="1.15"/>
<text x="151.90" y="182.11" font-size="8.2" text-anchor="end" >0</text>
<path d="M154.50 208.10H157.50" stroke="#3a3a3a" stroke-width="1.15"/>
<text x="151.90" y="211.01" font-size="8.2" text-anchor="end" >−0.5</text>
<path d="M164.10 224.00V227.00" stroke="#3a3a3a" stroke-width="1.15"/>
<text x="164.10" y="236.20" font-size="8.2" text-anchor="middle" >−0.5</text>
<path d="M192.60 224.00V227.00" stroke="#3a3a3a" stroke-width="1.15"/>
<text x="192.60" y="236.20" font-size="8.2" text-anchor="middle" >0</text>
<path d="M221.10 224.00V227.00" stroke="#3a3a3a" stroke-width="1.15"/>
<text x="221.10" y="236.20" font-size="8.2" text-anchor="middle" >0.5</text>
<clipPath id="ce"><rect x="157.50" y="134.30" width="70.00" height="89.70"/></clipPath>
<g clip-path="url(#ce)">
<path d="M164.60 179.10L164.60 179.70L164.60 180.30L164.60 181.00L164.70 181.60L164.80 182.20L164.80 182.80L164.90 183.40L165.00 184.00L165.20 184.60L165.30 185.20L165.40 185.80L165.60 186.40L165.80 187.00L166.00 187.60L166.20 188.20L166.40 188.80L166.60 189.30L166.80 189.90L167.10 190.50L167.40 191.00L167.60 191.60L167.90 192.10L168.20 192.70L168.50 193.20L168.80 193.70L169.10 194.30L169.50 194.80L169.80 195.30L170.20 195.80L170.50 196.30L170.90 196.80L171.30 197.20L171.70 197.70L172.10 198.20L172.50 198.60L172.90 199.10L173.30 199.50L173.80 199.90L174.20 200.40L174.70 200.80L175.10 201.20L175.60 201.60L176.10 201.90L176.60 202.30L177.10 202.70L177.60 203.00L178.10 203.40L178.60 203.70L179.10 204.00L179.70 204.30L180.20 204.60L180.70 204.90L181.30 205.10L181.90 205.40L182.40 205.60L183.00 205.90L183.60 206.10L184.20 206.30L184.70 206.50L185.30 206.60L185.90 206.80L186.50 206.90L187.10 207.00L187.70 207.10L188.30 207.20L188.90 207.30L189.50 207.40L190.20 207.40L190.80 207.40L191.40 207.40L192.00 207.40L192.60 207.40L193.20 207.40L193.80 207.40L194.40 207.30L195.00 207.20L195.60 207.10L196.20 207.10L196.80 206.90L197.40 206.80L198.00 206.70L198.60 206.60L199.20 206.40L199.80 206.30L200.40 206.10L200.90 205.90L201.50 205.70L202.10 205.50L202.70 205.30L203.20 205.10L203.80 204.90L204.30 204.60L204.90 204.40L205.40 204.10L206.00 203.80L206.50 203.50L207.00 203.20L207.60 202.90L208.10 202.60L208.60 202.30L209.10 201.90L209.60 201.60L210.10 201.20L210.60 200.80L211.10 200.40L211.50 200.00L212.00 199.60L212.40 199.20L212.90 198.80L213.30 198.30L213.70 197.90L214.10 197.40L214.50 196.90L214.90 196.50L215.30 196.00L215.70 195.50L216.00 195.00L216.30 194.40L216.70 193.90L217.00 193.40L217.30 192.80L217.50 192.30L217.80 191.70L218.10 191.10L218.30 190.60L218.50 190.00L218.70 189.40L218.90 188.80L219.10 188.20L219.30 187.60L219.50 187.00L219.60 186.40L219.70 185.80L219.80 185.20L219.90 184.60L220.00 184.00L220.10 183.40L220.20 182.80L220.20 182.20L220.30 181.60L220.30 180.90L220.30 180.30L220.30 179.70L220.30 179.10L220.30 178.50L220.20 177.90L220.20 177.30L220.10 176.70L220.10 176.00L220.00 175.40L219.90 174.80L219.80 174.20L219.70 173.60L219.60 173.00L219.50 172.40L219.30 171.80L219.20 171.20L219.00 170.70L218.90 170.10L218.70 169.50L218.50 168.90L218.30 168.30L218.00 167.70L217.80 167.20L217.50 166.60" fill="none" stroke="#00bfbf" stroke-width="1.2" stroke-linejoin="round" stroke-linecap="round" />
<path d="M220.60 179.10L220.60 178.50L220.60 177.90L220.60 177.20L220.50 176.60L220.40 176.00L220.40 175.40L220.30 174.80L220.20 174.20L220.00 173.60L219.90 173.00L219.80 172.40L219.60 171.80L219.40 171.20L219.20 170.60L219.00 170.00L218.80 169.40L218.60 168.90L218.40 168.30L218.10 167.70L217.80 167.20L217.60 166.60L217.30 166.10L217.00 165.50L216.70 165.00L216.40 164.50L216.10 163.90L215.70 163.40L215.40 162.90L215.00 162.40L214.70 161.90L214.30 161.40L213.90 161.00L213.50 160.50L213.10 160.00L212.70 159.60L212.30 159.10L211.90 158.70L211.40 158.30L211.00 157.80L210.50 157.40L210.10 157.00L209.60 156.60L209.10 156.30L208.60 155.90L208.10 155.50L207.60 155.20L207.10 154.80L206.60 154.50L206.10 154.20L205.50 153.90L205.00 153.60L204.50 153.30L203.90 153.10L203.30 152.80L202.80 152.60L202.20 152.30L201.60 152.10L201.00 151.90L200.50 151.70L199.90 151.60L199.30 151.40L198.70 151.30L198.10 151.20L197.50 151.10L196.90 151.00L196.30 150.90L195.70 150.80L195.00 150.80L194.40 150.80L193.80 150.80L193.20 150.80L192.60 150.80L192.00 150.80L191.40 150.80L190.80 150.90L190.20 151.00L189.60 151.10L189.00 151.10L188.40 151.30L187.80 151.40L187.20 151.50L186.60 151.60L186.00 151.80L185.40 151.90L184.80 152.10L184.30 152.30L183.70 152.50L183.10 152.70L182.50 152.90L182.00 153.10L181.40 153.30L180.90 153.60L180.30 153.80L179.80 154.10L179.20 154.40L178.70 154.70L178.20 155.00L177.60 155.30L177.10 155.60L176.60 155.90L176.10 156.30L175.60 156.60L175.10 157.00L174.60 157.40L174.10 157.80L173.70 158.20L173.20 158.60L172.80 159.00L172.30 159.40L171.90 159.90L171.50 160.30L171.10 160.80L170.70 161.30L170.30 161.70L169.90 162.20L169.50 162.70L169.20 163.20L168.90 163.80L168.50 164.30L168.20 164.80L167.90 165.40L167.70 165.90L167.40 166.50L167.10 167.10L166.90 167.60L166.70 168.20L166.50 168.80L166.30 169.40L166.10 170.00L165.90 170.60L165.70 171.20L165.60 171.80L165.50 172.40L165.40 173.00L165.30 173.60L165.20 174.20L165.10 174.80L165.00 175.40L165.00 176.00L164.90 176.60L164.90 177.30L164.90 177.90L164.90 178.50L164.90 179.10L164.90 179.70L165.00 180.30L165.00 180.90L165.10 181.50L165.10 182.20L165.20 182.80L165.30 183.40L165.40 184.00L165.50 184.60L165.60 185.20L165.70 185.80L165.90 186.40L166.00 187.00L166.20 187.50L166.30 188.10L166.50 188.70L166.70 189.30L166.90 189.90L167.20 190.50L167.40 191.00L167.70 191.60" fill="none" stroke="#00bfbf" stroke-width="1.2" stroke-linejoin="round" stroke-linecap="round" />
<ellipse cx="192.45" cy="178.95" rx="29.0" ry="28.2" fill="none" stroke="#a010c0" stroke-width="1.3"/>
<path d="M165.10 179.10L165.10 179.70L165.10 180.30L165.10 180.90L165.20 181.50L165.20 182.10L165.30 182.70L165.40 183.30L165.50 183.90L165.60 184.50L165.80 185.10L165.90 185.70L166.10 186.30L166.20 186.90L166.40 187.50L166.60 188.00L166.80 188.60L167.00 189.20L167.30 189.70L167.50 190.30L167.80 190.80L168.00 191.40L168.30 191.90L168.60 192.40L168.90 193.00L169.20 193.50L169.60 194.00L169.90 194.50L170.20 195.00L170.60 195.50L171.00 195.90L171.30 196.40L171.70 196.90L172.10 197.30L172.50 197.80L172.90 198.20L173.30 198.60L173.80 199.10L174.20 199.50L174.60 199.90L175.10 200.30" fill="none" stroke="#1a8a6a" stroke-width="1.2" stroke-linejoin="round" stroke-linecap="round" />
<path d="M220.10 179.10L220.10 178.50L220.10 177.90L220.10 177.30L220.00 176.70L220.00 176.10L219.90 175.50L219.80 174.90L219.70 174.30L219.60 173.70L219.40 173.10L219.30 172.50L219.10 171.90L219.00 171.30L218.80 170.70L218.60 170.20L218.40 169.60L218.20 169.00L217.90 168.50L217.70 167.90L217.40 167.40L217.20 166.80L216.90 166.30L216.60 165.80L216.30 165.20L216.00 164.70L215.60 164.20L215.30 163.70L215.00 163.20L214.60 162.70L214.20 162.30L213.90 161.80L213.50 161.30L213.10 160.90L212.70 160.40L212.30 160.00L211.90 159.60L211.40 159.10L211.00 158.70L210.60 158.30L210.10 157.90" fill="none" stroke="#1a8a6a" stroke-width="1.2" stroke-linejoin="round" stroke-linecap="round" />
<path d="M166.40 179.10L166.40 179.70L166.50 180.30L166.50 180.80L166.60 181.40L166.60 182.00L166.70 182.60L166.80 183.10L166.90 183.70L167.10 184.20L167.20 184.80L167.40 185.40L167.60 185.90L167.70 186.40L167.90 187.00L168.10 187.50L168.40 188.00L168.60 188.60L168.80 189.10L169.10 189.60L169.40 190.10L169.60 190.60L169.90 191.10L170.20 191.60L170.50 192.00L170.80 192.50L171.10 193.00L171.40 193.50L171.70 193.90L172.10 194.40L172.40 194.80" fill="none" stroke="#3a0a5a" stroke-width="1.4" stroke-linejoin="round" stroke-linecap="round" />
<path d="M218.80 179.10L218.80 178.50L218.70 177.90L218.70 177.40L218.60 176.80L218.60 176.20L218.50 175.60L218.40 175.10L218.30 174.50L218.10 174.00L218.00 173.40L217.80 172.80L217.60 172.30L217.50 171.80L217.30 171.20L217.10 170.70L216.80 170.20L216.60 169.60L216.40 169.10L216.10 168.60L215.80 168.10L215.60 167.60L215.30 167.10L215.00 166.60L214.70 166.20L214.40 165.70L214.10 165.20L213.80 164.70L213.50 164.30L213.10 163.80L212.80 163.40" fill="none" stroke="#3a0a5a" stroke-width="1.4" stroke-linejoin="round" stroke-linecap="round" />
<path d="M166.90 179.10L166.90 179.70L167.00 180.20L167.00 180.80L167.00 181.40L167.10 181.90L167.20 182.50L167.30 183.00L167.40 183.60L167.60 184.10L167.70 184.70L167.90 185.20L168.10 185.80L168.30 186.30L168.50 186.80L168.70 187.30L168.90 187.80L169.10 188.40L169.40 188.90L169.60 189.40L169.90 189.90L170.10 190.30L170.40 190.80L170.70 191.30L170.90 191.80" fill="none" stroke="#101030" stroke-width="1.6" stroke-linejoin="round" stroke-linecap="round" />
<path d="M218.30 179.10L218.30 178.50L218.20 178.00L218.20 177.40L218.20 176.80L218.10 176.30L218.00 175.70L217.90 175.20L217.80 174.60L217.60 174.10L217.50 173.50L217.30 173.00L217.10 172.40L216.90 171.90L216.70 171.40L216.50 170.90L216.30 170.40L216.10 169.80L215.80 169.30L215.60 168.80L215.30 168.30L215.10 167.90L214.80 167.40L214.50 166.90L214.30 166.40" fill="none" stroke="#101030" stroke-width="1.6" stroke-linejoin="round" stroke-linecap="round" />
<path d="M166.00 179.10L166.00 179.70L166.00 180.30L166.10 180.90L166.10 181.50L166.20 182.00L166.30 182.60L166.40 183.20L166.50 183.80L166.60 184.30L166.70 184.90L166.90 185.50L167.00 186.00L167.20 186.60L167.40 187.20L167.60 187.70L167.80 188.20L168.10 188.80L168.30 189.30L168.60 189.80L168.80 190.30L169.10 190.90L169.40 191.40L169.70 191.90L170.00 192.40L170.30 192.80L170.60 193.30L170.90 193.80L171.20 194.30L171.60 194.70L171.90 195.20L172.30 195.60L172.70 196.10L173.00 196.50" fill="none" stroke="#2020a0" stroke-width="1.5" stroke-linejoin="round" stroke-linecap="round" />
<path d="M219.20 179.10L219.20 178.50L219.20 177.90L219.10 177.30L219.10 176.70L219.00 176.20L218.90 175.60L218.80 175.00L218.70 174.40L218.60 173.90L218.50 173.30L218.30 172.70L218.20 172.20L218.00 171.60L217.80 171.00L217.60 170.50L217.40 170.00L217.10 169.40L216.90 168.90L216.60 168.40L216.40 167.90L216.10 167.30L215.80 166.80L215.50 166.30L215.20 165.80L214.90 165.40L214.60 164.90L214.30 164.40L214.00 163.90L213.60 163.50L213.30 163.00L212.90 162.60L212.50 162.10L212.20 161.70" fill="none" stroke="#2020a0" stroke-width="1.5" stroke-linejoin="round" stroke-linecap="round" />
<circle cx="166.66" cy="179.10" r="2.6" fill="#14003a"/>
<circle cx="167.52" cy="179.10" r="2.6" fill="#14003a"/>
<circle cx="163.81" cy="179.10" r="2.6" fill="#b82cc2"/>
<circle cx="218.53" cy="179.10" r="2.6" fill="#14003a"/>
<circle cx="217.68" cy="179.10" r="2.6" fill="#14003a"/>
<circle cx="221.38" cy="179.10" r="2.6" fill="#b82cc2"/>
</g>
<text x="161.20" y="143.80" font-size="8.2" text-anchor="start" >Flat</text>
<rect x="279.50" y="134.30" width="69.70" height="89.70" fill="none" stroke="#3a3a3a" stroke-width="1.15"/>
<path d="M276.50 151.30H279.50" stroke="#3a3a3a" stroke-width="1.15"/>
<text x="273.90" y="154.21" font-size="8.2" text-anchor="end" >0.5</text>
<path d="M276.50 179.00H279.50" stroke="#3a3a3a" stroke-width="1.15"/>
<text x="273.90" y="181.91" font-size="8.2" text-anchor="end" >0</text>
<path d="M276.50 206.80H279.50" stroke="#3a3a3a" stroke-width="1.15"/>
<text x="273.90" y="209.71" font-size="8.2" text-anchor="end" >−0.5</text>
<path d="M286.50 224.00V227.00" stroke="#3a3a3a" stroke-width="1.15"/>
<text x="286.50" y="236.20" font-size="8.2" text-anchor="middle" >−0.5</text>
<path d="M314.10 224.00V227.00" stroke="#3a3a3a" stroke-width="1.15"/>
<text x="314.10" y="236.20" font-size="8.2" text-anchor="middle" >0</text>
<path d="M341.70 224.00V227.00" stroke="#3a3a3a" stroke-width="1.15"/>
<text x="341.70" y="236.20" font-size="8.2" text-anchor="middle" >0.5</text>
<clipPath id="cf"><rect x="279.50" y="134.30" width="69.70" height="89.70"/></clipPath>
<g clip-path="url(#cf)">
<path d="M344.80 179.00L344.80 177.90L344.70 176.90L344.50 175.80L344.30 174.70L344.10 173.70L343.80 172.60L343.50 171.60L343.20 170.60L342.80 169.60L342.40 168.70L342.00 167.70L341.50 166.70L341.10 165.80L340.60 164.80L340.10 163.90L339.60 163.00L339.00 162.10L338.40 161.20L337.80 160.40L337.10 159.60L336.40 158.80L335.70 158.00L334.90 157.30L334.10 156.70L333.20 156.10L332.30 155.50L331.40 155.00L330.50 154.60L329.50 154.10L328.60 153.80L327.60 153.50L326.60 153.20L325.70 152.90L324.70 152.70L323.70 152.50L322.70 152.30L321.80 152.10L320.80 152.00L319.80 151.80L318.90 151.70L317.90 151.60L317.00 151.60L316.00 151.50L315.10 151.50L314.10 151.50L313.10 151.50L312.20 151.50L311.20 151.60L310.30 151.60L309.30 151.70L308.40 151.80L307.40 152.00L306.40 152.10L305.50 152.30L304.50 152.50L303.50 152.70L302.50 152.90L301.60 153.20L300.60 153.50L299.60 153.80L298.70 154.10L297.70 154.60L296.80 155.00L295.90 155.50L295.00 156.10L294.10 156.70L293.30 157.30L292.50 158.00L291.80 158.80L291.10 159.60L290.40 160.40L289.80 161.20L289.20 162.10L288.60 163.00L288.10 163.90L287.60 164.80L287.10 165.80L286.70 166.70L286.20 167.70L285.80 168.70L285.40 169.60L285.00 170.60L284.70 171.60L284.40 172.60L284.10 173.70L283.90 174.70L283.70 175.80L283.50 176.90L283.40 177.90L283.40 179.00L283.40 180.10L283.50 181.10L283.70 182.20L283.90 183.30L284.10 184.30L284.40 185.40L284.70 186.40L285.00 187.40L285.40 188.40L285.80 189.30L286.20 190.30L286.70 191.30L287.10 192.20L287.60 193.20L288.10 194.10L288.60 195.00L289.20 195.90L289.80 196.80L290.40 197.60L291.10 198.40L291.80 199.20L292.50 200.00L293.30 200.70L294.10 201.30L295.00 201.90L295.90 202.50L296.80 203.00L297.70 203.40L298.70 203.90L299.60 204.20L300.60 204.50L301.60 204.80L302.50 205.10L303.50 205.30L304.50 205.50L305.50 205.70L306.40 205.90L307.40 206.00L308.40 206.20L309.30 206.30L310.30 206.40L311.20 206.40L312.20 206.50L313.10 206.50L314.10 206.50L315.10 206.50L316.00 206.50L317.00 206.40L317.90 206.40L318.90 206.30L319.80 206.20L320.80 206.00L321.80 205.90L322.70 205.70L323.70 205.50L324.70 205.30L325.70 205.10L326.60 204.80L327.60 204.50L328.60 204.20L329.50 203.90L330.50 203.40L331.40 203.00L332.30 202.50L333.20 201.90L334.10 201.30L334.90 200.70L335.70 200.00L336.40 199.20L337.10 198.40L337.80 197.60L338.40 196.80L339.00 195.90L339.60 195.00L340.10 194.10L340.60 193.20L341.10 192.20L341.50 191.30L342.00 190.30L342.40 189.30L342.80 188.40L343.20 187.40L343.50 186.40L343.80 185.40L344.10 184.30L344.30 183.30L344.50 182.20L344.70 181.10L344.80 180.10L344.80 179.00" fill="none" stroke="#c46a9a" stroke-width="1.1" stroke-linejoin="round" stroke-linecap="round" />
<path d="M346.90 179.00L346.90 177.80L346.90 176.70L346.70 175.60L346.50 174.40L346.30 173.30L346.00 172.20L345.60 171.10L345.20 170.00L344.80 169.00L344.30 167.90L343.90 166.90L343.40 165.90L342.80 164.90L342.30 163.90L341.70 163.00L341.10 162.10L340.40 161.10L339.80 160.30L339.10 159.40L338.30 158.60L337.60 157.80L336.70 157.00L335.90 156.30L335.00 155.60L334.10 155.00L333.20 154.50L332.20 153.90L331.20 153.50L330.20 153.00L329.20 152.70L328.20 152.30L327.20 152.00L326.20 151.70L325.20 151.50L324.20 151.20L323.10 151.00L322.10 150.80L321.10 150.60L320.10 150.50L319.10 150.30L318.10 150.20L317.10 150.10L316.10 150.00L315.10 149.90L314.10 149.90L313.10 149.80L312.10 149.90L311.10 149.90L310.00 149.90L309.00 150.00L308.00 150.10L307.00 150.30L305.90 150.40L304.90 150.60L303.90 150.80L302.90 151.00L301.80 151.30L300.80 151.60L299.80 151.90L298.80 152.30L297.80 152.70L296.80 153.20L295.80 153.70L294.90 154.30L294.00 154.90L293.10 155.60L292.30 156.30L291.50 157.00L290.70 157.80L290.00 158.70L289.30 159.50L288.60 160.40L288.00 161.30L287.40 162.20L286.90 163.20L286.30 164.10L285.80 165.10L285.20 166.10L284.70 167.10L284.30 168.10L283.80 169.10L283.30 170.10L282.90 171.20L282.50 172.30L282.20 173.30L281.90 174.40L281.60 175.60L281.40 176.70L281.30 177.80L281.30 179.00L281.30 180.20L281.30 181.30L281.50 182.40L281.70 183.60L281.90 184.70L282.20 185.80L282.60 186.90L283.00 188.00L283.40 189.00L283.90 190.10L284.30 191.10L284.80 192.10L285.40 193.10L285.90 194.10L286.50 195.00L287.10 195.90L287.80 196.90L288.40 197.70L289.10 198.60L289.90 199.40L290.60 200.20L291.50 201.00L292.30 201.70L293.20 202.40L294.10 203.00L295.00 203.50L296.00 204.10L297.00 204.50L298.00 205.00L299.00 205.30L300.00 205.70L301.00 206.00L302.00 206.30L303.00 206.50L304.00 206.80L305.10 207.00L306.10 207.20L307.10 207.40L308.10 207.50L309.10 207.70L310.10 207.80L311.10 207.90L312.10 208.00L313.10 208.10L314.10 208.10L315.10 208.20L316.10 208.10L317.10 208.10L318.20 208.10L319.20 208.00L320.20 207.90L321.20 207.70L322.30 207.60L323.30 207.40L324.30 207.20L325.30 207.00L326.40 206.70L327.40 206.40L328.40 206.10L329.40 205.70L330.40 205.30L331.40 204.80L332.40 204.30L333.30 203.70L334.20 203.10L335.10 202.40L335.90 201.70L336.70 201.00L337.50 200.20L338.20 199.30L338.90 198.50L339.60 197.60L340.20 196.70L340.80 195.80L341.30 194.80L341.90 193.90L342.40 192.90L343.00 191.90L343.50 190.90L343.90 189.90L344.40 188.90L344.90 187.90L345.30 186.80L345.70 185.70L346.00 184.70L346.30 183.60L346.60 182.40L346.80 181.30L346.90 180.20L346.90 179.00" fill="none" stroke="#bfbf00" stroke-width="1.25" stroke-linejoin="round" stroke-linecap="round" />
<path d="M346.00 179.00L345.90 177.90L345.70 176.80L345.50 175.70L345.30 174.60L345.00 173.50L344.60 172.50L344.30 171.40L343.90 170.40L343.40 169.40L343.00 168.40L342.50 167.50L342.00 166.50L341.50 165.50L341.00 164.60L340.50 163.70L340.00 162.80L339.40 161.80L338.80 161.00L338.20 160.10L337.50 159.20L336.80 158.40L336.10 157.60L335.40 156.90L334.60 156.20L333.70 155.50L332.90 154.90L332.00 154.30L331.00 153.70L330.10 153.30L329.10 152.80L328.20 152.40L327.20 152.00L326.20 151.70L325.20 151.40L324.20 151.10L323.20 150.90L322.20 150.70L321.20 150.50L320.10 150.40L319.10 150.30L318.10 150.20L317.10 150.10L316.10 150.10L315.10 150.10L314.10 150.10L313.10 150.20L312.10 150.30L311.10 150.40L310.10 150.50L309.10 150.70L308.20 150.90L307.20 151.10L306.20 151.30L305.20 151.50L304.20 151.80L303.30 152.00L302.30 152.30L301.30 152.60L300.30 152.90L299.30 153.30L298.40 153.70L297.40 154.10L296.50 154.60L295.50 155.10L294.60 155.70L293.70 156.30L292.90 156.90L292.10 157.60L291.30 158.30L290.50 159.10L289.80 159.90L289.10 160.70L288.40 161.60L287.80 162.50L287.20 163.40L286.60 164.30L286.10 165.30L285.60 166.20L285.10 167.20L284.60 168.20L284.20 169.20L283.80 170.30L283.40 171.30L283.10 172.40L282.80 173.40L282.60 174.50L282.40 175.60L282.30 176.80L282.20 177.90L282.20 179.00L282.30 180.10L282.50 181.20L282.70 182.30L282.90 183.40L283.20 184.50L283.60 185.50L283.90 186.60L284.30 187.60L284.80 188.60L285.20 189.60L285.70 190.50L286.20 191.50L286.70 192.50L287.20 193.40L287.70 194.30L288.20 195.20L288.80 196.20L289.40 197.00L290.00 197.90L290.70 198.80L291.40 199.60L292.10 200.40L292.80 201.10L293.60 201.80L294.50 202.50L295.30 203.10L296.20 203.70L297.20 204.30L298.10 204.70L299.10 205.20L300.00 205.60L301.00 206.00L302.00 206.30L303.00 206.60L304.00 206.90L305.00 207.10L306.00 207.30L307.00 207.50L308.10 207.60L309.10 207.70L310.10 207.80L311.10 207.90L312.10 207.90L313.10 207.90L314.10 207.90L315.10 207.80L316.10 207.70L317.10 207.60L318.10 207.50L319.10 207.30L320.00 207.10L321.00 206.90L322.00 206.70L323.00 206.50L324.00 206.20L324.90 206.00L325.90 205.70L326.90 205.40L327.90 205.10L328.90 204.70L329.80 204.30L330.80 203.90L331.70 203.40L332.70 202.90L333.60 202.30L334.50 201.70L335.30 201.10L336.10 200.40L336.90 199.70L337.70 198.90L338.40 198.10L339.10 197.30L339.80 196.40L340.40 195.50L341.00 194.60L341.60 193.70L342.10 192.70L342.60 191.80L343.10 190.80L343.60 189.80L344.00 188.80L344.40 187.70L344.80 186.70L345.10 185.60L345.40 184.60L345.60 183.50L345.80 182.40L345.90 181.20L346.00 180.10L346.00 179.00" fill="none" stroke="#b5b000" stroke-width="1.1" stroke-linejoin="round" stroke-linecap="round" />
<path d="M345.20 179.00L345.20 177.90L345.10 176.80L345.00 175.70L344.90 174.70L344.60 173.60L344.40 172.50L344.10 171.50L343.70 170.50L343.30 169.50L342.90 168.50L342.40 167.50L341.90 166.50L341.40 165.60L340.90 164.70L340.30 163.80L339.70 162.90L339.10 162.00L338.50 161.20L337.80 160.40L337.10 159.60L336.40 158.80L335.60 158.10L334.80 157.50L334.00 156.80L333.10 156.20L332.20 155.70L331.30 155.20L330.40 154.70L329.40 154.30L328.50 153.90L327.60 153.60L326.60 153.20L325.60 152.90L324.70 152.60L323.70 152.40L322.80 152.10L321.80 151.90L320.90 151.70L319.90 151.50L319.00 151.30L318.00 151.10L317.00 151.00L316.10 150.80L315.10 150.80L314.10 150.70L313.10 150.70L312.10 150.70L311.10 150.70L310.20 150.80L309.20 150.80L308.20 151.00L307.20 151.10L306.20 151.30L305.20 151.50L304.20 151.70L303.30 152.00L302.30 152.30L301.30 152.60L300.40 153.00L299.40 153.40L298.50 153.90L297.60 154.30L296.70 154.90L295.80 155.40L295.00 156.10L294.20 156.70L293.40 157.40L292.60 158.20L291.90 158.90L291.30 159.70L290.60 160.60L290.00 161.40L289.40 162.30L288.90 163.20L288.40 164.10L287.80 165.00L287.40 165.90L286.90 166.80L286.40 167.70L285.90 168.70L285.50 169.70L285.10 170.60L284.70 171.60L284.30 172.60L284.00 173.70L283.70 174.70L283.40 175.80L283.20 176.80L283.10 177.90L283.00 179.00L283.00 180.10L283.10 181.20L283.20 182.30L283.30 183.30L283.60 184.40L283.80 185.50L284.10 186.50L284.50 187.50L284.90 188.50L285.30 189.50L285.80 190.50L286.30 191.50L286.80 192.40L287.30 193.30L287.90 194.20L288.50 195.10L289.10 196.00L289.70 196.80L290.40 197.60L291.10 198.40L291.80 199.20L292.60 199.90L293.40 200.50L294.20 201.20L295.10 201.80L296.00 202.30L296.90 202.80L297.80 203.30L298.80 203.70L299.70 204.10L300.60 204.40L301.60 204.80L302.60 205.10L303.50 205.40L304.50 205.60L305.40 205.90L306.40 206.10L307.30 206.30L308.30 206.50L309.20 206.70L310.20 206.90L311.20 207.00L312.10 207.20L313.10 207.20L314.10 207.30L315.10 207.30L316.10 207.30L317.10 207.30L318.00 207.20L319.00 207.20L320.00 207.00L321.00 206.90L322.00 206.70L323.00 206.50L324.00 206.30L324.90 206.00L325.90 205.70L326.90 205.40L327.80 205.00L328.80 204.60L329.70 204.10L330.60 203.70L331.50 203.10L332.40 202.60L333.20 201.90L334.00 201.30L334.80 200.60L335.60 199.80L336.30 199.10L336.90 198.30L337.60 197.40L338.20 196.60L338.80 195.70L339.30 194.80L339.80 193.90L340.40 193.00L340.80 192.10L341.30 191.20L341.80 190.30L342.30 189.30L342.70 188.30L343.10 187.40L343.50 186.40L343.90 185.40L344.20 184.30L344.50 183.30L344.80 182.20L345.00 181.20L345.10 180.10L345.20 179.00" fill="none" stroke="#c8c030" stroke-width="1.1" stroke-linejoin="round" stroke-linecap="round" />
<path d="M343.80 179.00L343.70 178.00L343.60 176.90L343.40 175.90L343.20 174.90L342.90 173.90L342.60 172.90L342.30 171.90L341.90 171.00L341.50 170.00L341.10 169.10L340.70 168.20L340.20 167.30L339.80 166.40L339.30 165.50L338.80 164.70L338.30 163.80L337.70 163.00L337.20 162.10L336.60 161.30L336.00 160.50L335.30 159.80L334.70 159.00L334.00 158.30L333.20 157.70L332.40 157.00L331.60 156.40L330.80 155.90L329.90 155.40L329.10 154.90L328.20 154.50L327.30 154.10L326.40 153.70L325.40 153.40L324.50 153.10L323.60 152.90L322.60 152.60L321.70 152.40L320.70 152.30L319.80 152.10L318.80 152.00L317.90 151.90L316.90 151.80L316.00 151.80L315.00 151.80L314.10 151.80L313.20 151.90L312.20 151.90L311.30 152.00L310.40 152.20L309.40 152.30L308.50 152.50L307.60 152.70L306.70 152.90L305.70 153.10L304.80 153.40L303.90 153.60L303.00 153.90L302.10 154.20L301.20 154.50L300.30 154.90L299.40 155.30L298.50 155.70L297.60 156.20L296.70 156.60L295.90 157.20L295.10 157.70L294.30 158.40L293.50 159.00L292.80 159.70L292.10 160.40L291.40 161.20L290.70 161.90L290.10 162.70L289.60 163.60L289.00 164.40L288.50 165.30L288.00 166.20L287.50 167.10L287.00 168.00L286.60 168.90L286.20 169.90L285.80 170.80L285.50 171.80L285.20 172.80L284.90 173.80L284.70 174.80L284.50 175.90L284.40 176.90L284.40 178.00L284.40 179.00L284.50 180.00L284.60 181.10L284.80 182.10L285.00 183.10L285.30 184.10L285.60 185.10L285.90 186.10L286.30 187.00L286.70 188.00L287.10 188.90L287.50 189.80L288.00 190.70L288.40 191.60L288.90 192.50L289.40 193.30L289.90 194.20L290.50 195.00L291.00 195.90L291.60 196.70L292.20 197.50L292.90 198.20L293.50 199.00L294.20 199.70L295.00 200.30L295.80 201.00L296.60 201.60L297.40 202.10L298.30 202.60L299.10 203.10L300.00 203.50L300.90 203.90L301.80 204.30L302.80 204.60L303.70 204.90L304.60 205.10L305.60 205.40L306.50 205.60L307.50 205.70L308.40 205.90L309.40 206.00L310.30 206.10L311.30 206.20L312.20 206.20L313.20 206.20L314.10 206.20L315.00 206.10L316.00 206.10L316.90 206.00L317.80 205.80L318.80 205.70L319.70 205.50L320.60 205.30L321.50 205.10L322.50 204.90L323.40 204.60L324.30 204.40L325.20 204.10L326.10 203.80L327.00 203.50L327.90 203.10L328.80 202.70L329.70 202.30L330.60 201.80L331.50 201.40L332.30 200.80L333.10 200.30L333.90 199.60L334.70 199.00L335.40 198.30L336.10 197.60L336.80 196.80L337.50 196.10L338.10 195.30L338.60 194.40L339.20 193.60L339.70 192.70L340.20 191.80L340.70 190.90L341.20 190.00L341.60 189.10L342.00 188.10L342.40 187.20L342.70 186.20L343.00 185.20L343.30 184.20L343.50 183.20L343.70 182.10L343.80 181.10L343.80 180.00L343.80 179.00" fill="none" stroke="#3aa040" stroke-width="1.1" stroke-linejoin="round" stroke-linecap="round" />
<path d="M342.60 179.00L342.60 178.00L342.60 177.00L342.50 176.00L342.30 175.00L342.10 174.00L341.90 173.10L341.60 172.10L341.30 171.20L340.90 170.20L340.50 169.30L340.10 168.40L339.70 167.50L339.20 166.70L338.80 165.80L338.30 165.00L337.70 164.20L337.20 163.40L336.60 162.60L336.00 161.80L335.30 161.10L334.70 160.40L334.00 159.70L333.20 159.10L332.50 158.50L331.70 157.90L330.90 157.40L330.10 156.90L329.20 156.50L328.40 156.00L327.50 155.70L326.60 155.30L325.80 155.00L324.90 154.70L324.00 154.40L323.10 154.10L322.20 153.90L321.30 153.60L320.40 153.40L319.50 153.20L318.60 153.10L317.70 152.90L316.80 152.80L315.90 152.70L315.00 152.60L314.10 152.60L313.20 152.60L312.30 152.60L311.30 152.60L310.40 152.70L309.50 152.80L308.60 152.90L307.70 153.10L306.80 153.30L305.80 153.50L304.90 153.70L304.00 154.00L303.10 154.30L302.30 154.60L301.40 154.90L300.50 155.30L299.60 155.70L298.80 156.20L298.00 156.70L297.20 157.20L296.40 157.80L295.70 158.40L294.90 159.10L294.30 159.70L293.60 160.40L293.00 161.20L292.40 161.90L291.80 162.70L291.30 163.50L290.80 164.30L290.30 165.20L289.80 166.00L289.30 166.90L288.90 167.70L288.50 168.60L288.10 169.50L287.70 170.40L287.30 171.30L286.90 172.20L286.60 173.10L286.30 174.10L286.10 175.00L285.90 176.00L285.70 177.00L285.60 178.00L285.60 179.00L285.60 180.00L285.60 181.00L285.70 182.00L285.90 183.00L286.10 184.00L286.30 184.90L286.60 185.90L286.90 186.80L287.30 187.80L287.70 188.70L288.10 189.60L288.50 190.50L289.00 191.30L289.40 192.20L289.90 193.00L290.50 193.80L291.00 194.60L291.60 195.40L292.20 196.20L292.90 196.90L293.50 197.60L294.20 198.30L295.00 198.90L295.70 199.50L296.50 200.10L297.30 200.60L298.10 201.10L299.00 201.50L299.80 202.00L300.70 202.30L301.60 202.70L302.40 203.00L303.30 203.30L304.20 203.60L305.10 203.90L306.00 204.10L306.90 204.40L307.80 204.60L308.70 204.80L309.60 204.90L310.50 205.10L311.40 205.20L312.30 205.30L313.20 205.40L314.10 205.40L315.00 205.40L315.90 205.40L316.90 205.40L317.80 205.30L318.70 205.20L319.60 205.10L320.50 204.90L321.40 204.70L322.40 204.50L323.30 204.30L324.20 204.00L325.10 203.70L325.90 203.40L326.80 203.10L327.70 202.70L328.60 202.30L329.40 201.80L330.20 201.30L331.00 200.80L331.80 200.20L332.50 199.60L333.30 198.90L333.90 198.30L334.60 197.60L335.20 196.80L335.80 196.10L336.40 195.30L336.90 194.50L337.40 193.70L337.90 192.80L338.40 192.00L338.90 191.10L339.30 190.30L339.70 189.40L340.10 188.50L340.50 187.60L340.90 186.70L341.30 185.80L341.60 184.90L341.90 183.90L342.10 183.00L342.30 182.00L342.50 181.00L342.60 180.00L342.60 179.00" fill="none" stroke="#1aa0a0" stroke-width="1.1" stroke-linejoin="round" stroke-linecap="round" />
<path d="M341.30 179.00L341.20 178.00L341.20 177.10L341.10 176.20L340.90 175.20L340.70 174.30L340.50 173.40L340.30 172.40L340.00 171.50L339.70 170.60L339.40 169.70L339.00 168.90L338.70 168.00L338.30 167.10L337.90 166.30L337.40 165.50L337.00 164.60L336.50 163.80L336.00 163.00L335.40 162.30L334.80 161.50L334.20 160.80L333.50 160.10L332.80 159.50L332.10 158.90L331.40 158.30L330.60 157.80L329.80 157.30L329.00 156.90L328.10 156.50L327.30 156.10L326.40 155.70L325.50 155.40L324.60 155.20L323.80 154.90L322.90 154.70L322.00 154.50L321.10 154.30L320.30 154.20L319.40 154.10L318.50 154.00L317.60 153.90L316.70 153.80L315.90 153.70L315.00 153.70L314.10 153.70L313.20 153.70L312.30 153.70L311.50 153.80L310.60 153.90L309.70 154.00L308.80 154.10L307.90 154.20L307.10 154.30L306.20 154.50L305.30 154.70L304.40 154.90L303.60 155.20L302.70 155.40L301.80 155.70L300.90 156.10L300.10 156.50L299.20 156.90L298.40 157.30L297.60 157.80L296.80 158.30L296.10 158.90L295.40 159.50L294.70 160.10L294.00 160.80L293.40 161.50L292.80 162.30L292.20 163.00L291.70 163.80L291.20 164.60L290.80 165.50L290.30 166.30L289.90 167.10L289.50 168.00L289.20 168.90L288.80 169.70L288.50 170.60L288.20 171.50L287.90 172.40L287.70 173.40L287.50 174.30L287.30 175.20L287.10 176.20L287.00 177.10L287.00 178.00L286.90 179.00L287.00 180.00L287.00 180.90L287.10 181.80L287.30 182.80L287.50 183.70L287.70 184.60L287.90 185.60L288.20 186.50L288.50 187.40L288.80 188.30L289.20 189.10L289.50 190.00L289.90 190.90L290.30 191.70L290.80 192.50L291.20 193.40L291.70 194.20L292.20 195.00L292.80 195.70L293.40 196.50L294.00 197.20L294.70 197.90L295.40 198.50L296.10 199.10L296.80 199.70L297.60 200.20L298.40 200.70L299.20 201.10L300.10 201.50L300.90 201.90L301.80 202.30L302.70 202.60L303.60 202.80L304.40 203.10L305.30 203.30L306.20 203.50L307.10 203.70L307.90 203.80L308.80 203.90L309.70 204.00L310.60 204.10L311.50 204.20L312.30 204.30L313.20 204.30L314.10 204.30L315.00 204.30L315.90 204.30L316.70 204.20L317.60 204.10L318.50 204.00L319.40 203.90L320.30 203.80L321.10 203.70L322.00 203.50L322.90 203.30L323.80 203.10L324.60 202.80L325.50 202.60L326.40 202.30L327.30 201.90L328.10 201.50L329.00 201.10L329.80 200.70L330.60 200.20L331.40 199.70L332.10 199.10L332.80 198.50L333.50 197.90L334.20 197.20L334.80 196.50L335.40 195.70L336.00 195.00L336.50 194.20L337.00 193.40L337.40 192.50L337.90 191.70L338.30 190.90L338.70 190.00L339.00 189.10L339.40 188.30L339.70 187.40L340.00 186.50L340.30 185.60L340.50 184.60L340.70 183.70L340.90 182.80L341.10 181.80L341.20 180.90L341.20 180.00L341.30 179.00" fill="none" stroke="#2a9a70" stroke-width="1.0" stroke-linejoin="round" stroke-linecap="round" />
<path d="M339.90 177.20L339.80 176.60L339.70 176.00L339.50 175.40L339.40 174.80L339.30 174.20L339.10 173.60L338.90 173.00L338.80 172.40L338.60 171.90L338.40 171.30L338.20 170.70L337.90 170.20L337.70 169.60L337.50 169.10L337.20 168.50L336.90 168.00L336.70 167.50L336.40 166.90L336.10 166.40L335.80 165.90L335.50 165.40L335.10 164.90L334.80 164.40L334.50 163.90L334.10 163.40L333.70 163.00L333.40 162.50L333.00 162.00L332.60 161.60L332.20 161.10L331.80 160.70L331.40 160.20L331.00 159.80L330.50 159.40L330.10 159.00L329.60 158.60L329.20 158.20L328.70 157.80L328.20 157.50L327.70 157.20" fill="none" stroke="#2a2a9a" stroke-width="1.3" stroke-linejoin="round" stroke-linecap="round" />
<path d="M339.70 178.10L339.60 177.50L339.50 177.00L339.40 176.40L339.30 175.90L339.20 175.30L339.10 174.80L338.90 174.20L338.80 173.70L338.60 173.10L338.50 172.60L338.30 172.10L338.10 171.50L337.90 171.00L337.70 170.50L337.50 170.00L337.30 169.50L337.10 168.90L336.90 168.40L336.60 167.90L336.40 167.40L336.10 166.90L335.90 166.40L335.60 165.90L335.30 165.40L335.10 165.00L334.80 164.50L334.50 164.00L334.20 163.50L333.90 163.10L333.60 162.60" fill="none" stroke="#3a0a5a" stroke-width="1.2" stroke-linejoin="round" stroke-linecap="round" />
<path d="M288.30 180.80L288.40 181.40L288.50 182.00L288.70 182.60L288.80 183.20L288.90 183.80L289.10 184.40L289.30 185.00L289.40 185.60L289.60 186.10L289.80 186.70L290.00 187.30L290.30 187.80L290.50 188.40L290.70 188.90L291.00 189.50L291.30 190.00L291.50 190.50L291.80 191.10L292.10 191.60L292.40 192.10L292.70 192.60L293.10 193.10L293.40 193.60L293.70 194.10L294.10 194.60L294.50 195.00L294.80 195.50L295.20 196.00L295.60 196.40L296.00 196.90L296.40 197.30L296.80 197.80L297.20 198.20L297.70 198.60L298.10 199.00L298.60 199.40L299.00 199.80L299.50 200.20L300.00 200.50L300.50 200.80" fill="none" stroke="#2a2a9a" stroke-width="1.3" stroke-linejoin="round" stroke-linecap="round" />
<path d="M288.50 179.90L288.60 180.50L288.70 181.00L288.80 181.60L288.90 182.10L289.00 182.70L289.10 183.20L289.30 183.80L289.40 184.30L289.60 184.90L289.70 185.40L289.90 185.90L290.10 186.50L290.30 187.00L290.50 187.50L290.70 188.00L290.90 188.50L291.10 189.10L291.30 189.60L291.60 190.10L291.80 190.60L292.10 191.10L292.30 191.60L292.60 192.10L292.90 192.60L293.10 193.00L293.40 193.50L293.70 194.00L294.00 194.50L294.30 194.90L294.60 195.40" fill="none" stroke="#3a0a5a" stroke-width="1.2" stroke-linejoin="round" stroke-linecap="round" />
<circle cx="288.43" cy="179.00" r="2.2" fill="#4a0a50"/>
<circle cx="284.84" cy="179.00" r="2.3" fill="#a8a018"/>
<circle cx="282.36" cy="179.00" r="2.8" fill="#c8c800"/>
<circle cx="339.77" cy="179.00" r="2.2" fill="#4a0a50"/>
<circle cx="343.36" cy="179.00" r="2.3" fill="#a8a018"/>
<circle cx="345.84" cy="179.00" r="2.8" fill="#c8c800"/>
</g>
<text x="283.60" y="143.80" font-size="8.2" text-anchor="start" >Seamount</text>
<text x="1.30" y="8.90" font-size="10.2">(<tspan font-style="italic">a</tspan><tspan dx="0.40">)</tspan></text>
<text x="127.60" y="8.90" font-size="10.2">(<tspan font-style="italic">b</tspan><tspan dx="0.40">)</tspan></text>
<text x="244.60" y="8.90" font-size="10.2">(<tspan font-style="italic">c</tspan><tspan dx="0.60">)</tspan></text>
<text x="1.30" y="134.30" font-size="10.2">(<tspan font-style="italic">d</tspan><tspan dx="1.00">)</tspan></text>
<text x="127.60" y="134.70" font-size="10.2">(<tspan font-style="italic">e</tspan><tspan dx="0.60">)</tspan></text>
<text x="244.60" y="134.70" font-size="10.2">(<tspan font-style="italic">f</tspan><tspan dx="3.60">)</tspan></text>
<text x="68.70" y="120.60" font-size="9.6" text-anchor="middle" font-style="italic" >t</text>
<text x="192.60" y="120.60" font-size="9.6" text-anchor="middle" font-style="italic" >t</text>
<text x="314.00" y="120.60" font-size="9.6" text-anchor="middle" font-style="italic" >t</text>
<text x="68.90" y="245.50" font-size="9.6" text-anchor="middle" font-style="italic" >x</text>
<text x="192.80" y="245.50" font-size="9.6" text-anchor="middle" font-style="italic" >x</text>
<text x="314.10" y="245.50" font-size="9.6" text-anchor="middle" font-style="italic" >x</text>
<text transform="translate(10.40 55.60) rotate(-90)" font-size="10.4" text-anchor="middle" font-style="italic" letter-spacing="0.5">d/R<tspan font-size="7" dy="2.0">v</tspan></text>
<text transform="translate(135.80 55.00) rotate(-90)" font-size="10.4" text-anchor="middle" font-style="italic" letter-spacing="0.5">d/R<tspan font-size="7" dy="2.0">v</tspan></text>
<text transform="translate(254.20 55.00) rotate(-90)" font-size="10.4" text-anchor="middle" font-style="italic" letter-spacing="0.5">d/R<tspan font-size="7" dy="2.0">v</tspan></text>
<text x="4.90" y="182.00" font-size="9.6" text-anchor="middle" font-style="italic" >y</text>
<text x="130.40" y="182.00" font-size="9.6" text-anchor="middle" font-style="italic" >y</text>
<text x="251.80" y="182.00" font-size="9.6" text-anchor="middle" font-style="italic" >y</text>
</svg>
</body></html>
